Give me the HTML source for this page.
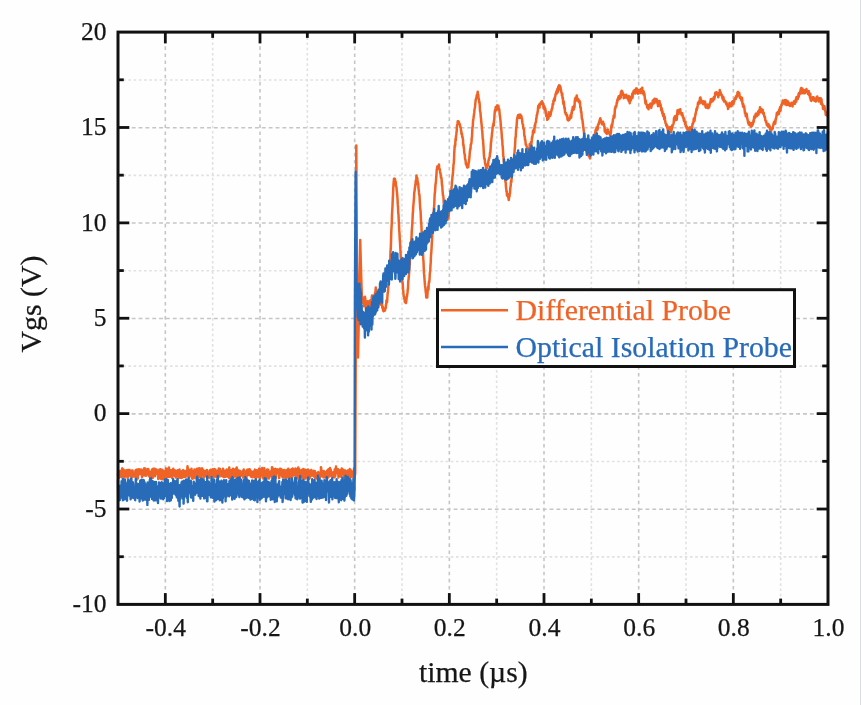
<!DOCTYPE html>
<html><head><meta charset="utf-8"><title>Vgs</title>
<style>
html,body{margin:0;padding:0;background:#fff;}
body{width:861px;height:705px;overflow:hidden;position:relative;}
svg{position:absolute;left:0;top:0;display:block;filter:blur(0.7px);}
text{font-family:"Liberation Serif",serif;fill:#161616;stroke:#161616;stroke-width:0.25px;}
</style></head><body>
<svg width="861" height="705" viewBox="0 0 861 705">
<rect x="0" y="0" width="861" height="705" fill="#fefefe"/>
<g id="grid">
<line x1="165.33" y1="32.1" x2="165.33" y2="604.4" stroke="#c6c6c6" stroke-width="1.6" stroke-dasharray="3.6 3.5"/>
<line x1="212.67" y1="32.1" x2="212.67" y2="604.4" stroke="#e1e1e1" stroke-width="1.6" stroke-dasharray="2.6 2.6"/>
<line x1="260.00" y1="32.1" x2="260.00" y2="604.4" stroke="#c6c6c6" stroke-width="1.6" stroke-dasharray="3.6 3.5"/>
<line x1="307.33" y1="32.1" x2="307.33" y2="604.4" stroke="#e1e1e1" stroke-width="1.6" stroke-dasharray="2.6 2.6"/>
<line x1="354.67" y1="32.1" x2="354.67" y2="604.4" stroke="#c6c6c6" stroke-width="1.6" stroke-dasharray="3.6 3.5"/>
<line x1="402.00" y1="32.1" x2="402.00" y2="604.4" stroke="#e1e1e1" stroke-width="1.6" stroke-dasharray="2.6 2.6"/>
<line x1="449.33" y1="32.1" x2="449.33" y2="604.4" stroke="#c6c6c6" stroke-width="1.6" stroke-dasharray="3.6 3.5"/>
<line x1="496.67" y1="32.1" x2="496.67" y2="604.4" stroke="#e1e1e1" stroke-width="1.6" stroke-dasharray="2.6 2.6"/>
<line x1="544.00" y1="32.1" x2="544.00" y2="604.4" stroke="#c6c6c6" stroke-width="1.6" stroke-dasharray="3.6 3.5"/>
<line x1="591.33" y1="32.1" x2="591.33" y2="604.4" stroke="#e1e1e1" stroke-width="1.6" stroke-dasharray="2.6 2.6"/>
<line x1="638.67" y1="32.1" x2="638.67" y2="604.4" stroke="#c6c6c6" stroke-width="1.6" stroke-dasharray="3.6 3.5"/>
<line x1="686.00" y1="32.1" x2="686.00" y2="604.4" stroke="#e1e1e1" stroke-width="1.6" stroke-dasharray="2.6 2.6"/>
<line x1="733.33" y1="32.1" x2="733.33" y2="604.4" stroke="#c6c6c6" stroke-width="1.6" stroke-dasharray="3.6 3.5"/>
<line x1="780.67" y1="32.1" x2="780.67" y2="604.4" stroke="#e1e1e1" stroke-width="1.6" stroke-dasharray="2.6 2.6"/>
<line x1="118.0" y1="556.91" x2="828.0" y2="556.91" stroke="#e1e1e1" stroke-width="1.6" stroke-dasharray="2.6 2.6"/>
<line x1="118.0" y1="509.22" x2="828.0" y2="509.22" stroke="#c6c6c6" stroke-width="1.6" stroke-dasharray="3.9 2.95"/>
<line x1="118.0" y1="461.52" x2="828.0" y2="461.52" stroke="#e1e1e1" stroke-width="1.6" stroke-dasharray="2.6 2.6"/>
<line x1="118.0" y1="413.83" x2="828.0" y2="413.83" stroke="#c6c6c6" stroke-width="1.6" stroke-dasharray="3.9 2.95"/>
<line x1="118.0" y1="366.14" x2="828.0" y2="366.14" stroke="#e1e1e1" stroke-width="1.6" stroke-dasharray="2.6 2.6"/>
<line x1="118.0" y1="318.45" x2="828.0" y2="318.45" stroke="#c6c6c6" stroke-width="1.6" stroke-dasharray="3.9 2.95"/>
<line x1="118.0" y1="270.76" x2="828.0" y2="270.76" stroke="#e1e1e1" stroke-width="1.6" stroke-dasharray="2.6 2.6"/>
<line x1="118.0" y1="223.07" x2="828.0" y2="223.07" stroke="#c6c6c6" stroke-width="1.6" stroke-dasharray="3.9 2.95"/>
<line x1="118.0" y1="175.37" x2="828.0" y2="175.37" stroke="#e1e1e1" stroke-width="1.6" stroke-dasharray="2.6 2.6"/>
<line x1="118.0" y1="127.68" x2="828.0" y2="127.68" stroke="#c6c6c6" stroke-width="1.6" stroke-dasharray="3.9 2.95"/>
<line x1="118.0" y1="79.99" x2="828.0" y2="79.99" stroke="#e1e1e1" stroke-width="1.6" stroke-dasharray="2.6 2.6"/>
</g>
<g id="ticks" stroke="#111" stroke-width="2.8">
<line x1="165.33" y1="604.4" x2="165.33" y2="593.1"/>
<line x1="165.33" y1="32.1" x2="165.33" y2="43.400000000000006"/>
<line x1="212.67" y1="604.4" x2="212.67" y2="598.6"/>
<line x1="212.67" y1="32.1" x2="212.67" y2="37.9"/>
<line x1="260.00" y1="604.4" x2="260.00" y2="593.1"/>
<line x1="260.00" y1="32.1" x2="260.00" y2="43.400000000000006"/>
<line x1="307.33" y1="604.4" x2="307.33" y2="598.6"/>
<line x1="307.33" y1="32.1" x2="307.33" y2="37.9"/>
<line x1="354.67" y1="604.4" x2="354.67" y2="593.1"/>
<line x1="354.67" y1="32.1" x2="354.67" y2="43.400000000000006"/>
<line x1="402.00" y1="604.4" x2="402.00" y2="598.6"/>
<line x1="402.00" y1="32.1" x2="402.00" y2="37.9"/>
<line x1="449.33" y1="604.4" x2="449.33" y2="593.1"/>
<line x1="449.33" y1="32.1" x2="449.33" y2="43.400000000000006"/>
<line x1="496.67" y1="604.4" x2="496.67" y2="598.6"/>
<line x1="496.67" y1="32.1" x2="496.67" y2="37.9"/>
<line x1="544.00" y1="604.4" x2="544.00" y2="593.1"/>
<line x1="544.00" y1="32.1" x2="544.00" y2="43.400000000000006"/>
<line x1="591.33" y1="604.4" x2="591.33" y2="598.6"/>
<line x1="591.33" y1="32.1" x2="591.33" y2="37.9"/>
<line x1="638.67" y1="604.4" x2="638.67" y2="593.1"/>
<line x1="638.67" y1="32.1" x2="638.67" y2="43.400000000000006"/>
<line x1="686.00" y1="604.4" x2="686.00" y2="598.6"/>
<line x1="686.00" y1="32.1" x2="686.00" y2="37.9"/>
<line x1="733.33" y1="604.4" x2="733.33" y2="593.1"/>
<line x1="733.33" y1="32.1" x2="733.33" y2="43.400000000000006"/>
<line x1="780.67" y1="604.4" x2="780.67" y2="598.6"/>
<line x1="780.67" y1="32.1" x2="780.67" y2="37.9"/>
<line x1="118.0" y1="556.71" x2="123.8" y2="556.71"/>
<line x1="828.0" y1="556.71" x2="822.2" y2="556.71"/>
<line x1="118.0" y1="509.02" x2="129.3" y2="509.02"/>
<line x1="828.0" y1="509.02" x2="816.7" y2="509.02"/>
<line x1="118.0" y1="461.32" x2="123.8" y2="461.32"/>
<line x1="828.0" y1="461.32" x2="822.2" y2="461.32"/>
<line x1="118.0" y1="413.63" x2="129.3" y2="413.63"/>
<line x1="828.0" y1="413.63" x2="816.7" y2="413.63"/>
<line x1="118.0" y1="365.94" x2="123.8" y2="365.94"/>
<line x1="828.0" y1="365.94" x2="822.2" y2="365.94"/>
<line x1="118.0" y1="318.25" x2="129.3" y2="318.25"/>
<line x1="828.0" y1="318.25" x2="816.7" y2="318.25"/>
<line x1="118.0" y1="270.56" x2="123.8" y2="270.56"/>
<line x1="828.0" y1="270.56" x2="822.2" y2="270.56"/>
<line x1="118.0" y1="222.87" x2="129.3" y2="222.87"/>
<line x1="828.0" y1="222.87" x2="816.7" y2="222.87"/>
<line x1="118.0" y1="175.17" x2="123.8" y2="175.17"/>
<line x1="828.0" y1="175.17" x2="822.2" y2="175.17"/>
<line x1="118.0" y1="127.48" x2="129.3" y2="127.48"/>
<line x1="828.0" y1="127.48" x2="816.7" y2="127.48"/>
<line x1="118.0" y1="79.79" x2="123.8" y2="79.79"/>
<line x1="828.0" y1="79.79" x2="822.2" y2="79.79"/>
</g>
<path id="orange" d="M118.00,473.50 L118.25,476.92 L118.50,475.75 L118.75,477.21 L119.00,477.87 L119.25,471.70 L119.50,475.47 L119.75,476.60 L120.00,471.02 L120.25,476.46 L120.50,471.88 L120.75,474.17 L121.00,474.00 L121.25,476.99 L121.50,474.52 L121.75,476.81 L122.00,469.16 L122.25,468.39 L122.50,470.77 L122.75,474.11 L123.00,473.44 L123.25,469.29 L123.50,469.57 L123.75,472.98 L124.00,472.36 L124.25,477.21 L124.50,473.93 L124.75,476.28 L125.00,476.64 L125.25,472.36 L125.50,473.09 L125.75,470.54 L126.00,472.28 L126.25,472.72 L126.50,471.96 L126.75,470.86 L127.00,472.25 L127.25,469.90 L127.50,477.75 L127.75,477.61 L128.00,470.45 L128.25,471.99 L128.50,470.34 L128.75,471.32 L129.00,471.79 L129.25,469.88 L129.50,470.65 L129.75,474.19 L130.00,474.21 L130.25,475.99 L130.50,472.68 L130.75,472.99 L131.00,470.56 L131.25,471.53 L131.50,473.69 L131.75,472.60 L132.00,476.71 L132.25,471.41 L132.50,470.44 L132.75,472.38 L133.00,474.70 L133.25,476.59 L133.50,475.37 L133.75,473.40 L134.00,474.38 L134.25,476.10 L134.50,472.39 L134.75,476.58 L135.00,474.00 L135.25,472.09 L135.50,470.47 L135.75,475.53 L136.00,470.09 L136.25,472.85 L136.50,473.59 L136.75,479.77 L137.00,470.67 L137.25,469.50 L137.50,473.51 L137.75,478.40 L138.00,469.99 L138.25,473.76 L138.50,469.40 L138.75,472.71 L139.00,469.35 L139.25,473.72 L139.50,471.01 L139.75,474.23 L140.00,470.40 L140.25,470.11 L140.50,471.32 L140.75,471.21 L141.00,469.43 L141.25,471.47 L141.50,472.03 L141.75,471.15 L142.00,477.04 L142.25,474.03 L142.50,474.70 L142.75,475.16 L143.00,475.50 L143.25,473.76 L143.50,469.80 L143.75,472.40 L144.00,468.62 L144.25,473.14 L144.50,468.49 L144.75,474.58 L145.00,470.72 L145.25,475.61 L145.50,468.83 L145.75,474.39 L146.00,475.79 L146.25,470.38 L146.50,474.14 L146.75,469.99 L147.00,470.15 L147.25,471.68 L147.50,469.91 L147.75,473.97 L148.00,468.91 L148.25,471.45 L148.50,469.39 L148.75,475.71 L149.00,474.19 L149.25,473.34 L149.50,475.21 L149.75,476.95 L150.00,474.06 L150.25,473.47 L150.50,471.72 L150.75,472.39 L151.00,476.97 L151.25,474.97 L151.50,471.82 L151.75,477.85 L152.00,469.71 L152.25,469.41 L152.50,476.55 L152.75,477.87 L153.00,470.51 L153.25,468.82 L153.50,468.84 L153.75,473.93 L154.00,471.90 L154.25,474.87 L154.50,474.10 L154.75,468.80 L155.00,476.16 L155.25,471.25 L155.50,474.14 L155.75,474.22 L156.00,470.40 L156.25,473.52 L156.50,469.39 L156.75,472.19 L157.00,471.21 L157.25,471.73 L157.50,470.48 L157.75,472.89 L158.00,473.89 L158.25,479.00 L158.50,470.40 L158.75,478.12 L159.00,474.87 L159.25,470.99 L159.50,469.61 L159.75,477.90 L160.00,471.12 L160.25,469.17 L160.50,475.47 L160.75,475.97 L161.00,478.92 L161.25,471.66 L161.50,471.60 L161.75,472.79 L162.00,469.68 L162.25,474.48 L162.50,479.36 L162.75,471.01 L163.00,471.66 L163.25,473.42 L163.50,470.76 L163.75,475.03 L164.00,478.16 L164.25,471.68 L164.50,474.73 L164.75,476.61 L165.00,472.07 L165.25,477.37 L165.50,477.38 L165.75,474.48 L166.00,468.56 L166.25,471.17 L166.50,470.14 L166.75,477.38 L167.00,476.32 L167.25,469.01 L167.50,475.10 L167.75,470.29 L168.00,476.51 L168.25,473.87 L168.50,476.40 L168.75,476.79 L169.00,467.62 L169.25,471.56 L169.50,474.55 L169.75,476.86 L170.00,472.99 L170.25,470.58 L170.50,471.12 L170.75,473.16 L171.00,470.17 L171.25,471.93 L171.50,470.24 L171.75,472.90 L172.00,477.61 L172.25,478.08 L172.50,470.42 L172.75,473.47 L173.00,475.66 L173.25,468.82 L173.50,473.46 L173.75,470.56 L174.00,471.50 L174.25,472.04 L174.50,475.72 L174.75,470.37 L175.00,475.47 L175.25,474.92 L175.50,473.03 L175.75,477.40 L176.00,472.84 L176.25,472.63 L176.50,476.31 L176.75,475.51 L177.00,475.31 L177.25,470.60 L177.50,470.28 L177.75,472.45 L178.00,471.23 L178.25,476.72 L178.50,471.66 L178.75,470.64 L179.00,477.78 L179.25,473.40 L179.50,469.61 L179.75,472.26 L180.00,477.50 L180.25,471.80 L180.50,473.11 L180.75,477.83 L181.00,474.34 L181.25,475.43 L181.50,477.89 L181.75,471.21 L182.00,477.85 L182.25,474.66 L182.50,471.91 L182.75,470.71 L183.00,471.24 L183.25,470.10 L183.50,476.73 L183.75,473.65 L184.00,472.03 L184.25,476.69 L184.50,473.84 L184.75,474.02 L185.00,470.94 L185.25,473.20 L185.50,477.05 L185.75,474.64 L186.00,473.88 L186.25,475.16 L186.50,473.68 L186.75,475.00 L187.00,471.55 L187.25,471.03 L187.50,466.33 L187.75,475.69 L188.00,468.33 L188.25,471.10 L188.50,474.43 L188.75,474.33 L189.00,477.67 L189.25,470.80 L189.50,470.05 L189.75,472.03 L190.00,472.93 L190.25,471.90 L190.50,474.51 L190.75,475.50 L191.00,470.05 L191.25,475.32 L191.50,468.83 L191.75,473.81 L192.00,478.11 L192.25,477.83 L192.50,473.91 L192.75,478.65 L193.00,471.51 L193.25,471.77 L193.50,473.30 L193.75,473.81 L194.00,476.07 L194.25,472.61 L194.50,469.46 L194.75,474.44 L195.00,469.87 L195.25,478.11 L195.50,470.69 L195.75,471.64 L196.00,470.11 L196.25,471.74 L196.50,474.43 L196.75,471.46 L197.00,468.71 L197.25,475.12 L197.50,474.99 L197.75,470.91 L198.00,471.09 L198.25,468.66 L198.50,470.05 L198.75,472.24 L199.00,470.97 L199.25,477.22 L199.50,468.18 L199.75,474.89 L200.00,473.61 L200.25,472.35 L200.50,472.92 L200.75,471.71 L201.00,472.06 L201.25,468.71 L201.50,478.60 L201.75,468.73 L202.00,468.38 L202.25,473.38 L202.50,474.50 L202.75,473.53 L203.00,471.07 L203.25,469.78 L203.50,475.21 L203.75,471.33 L204.00,471.59 L204.25,477.38 L204.50,471.50 L204.75,475.45 L205.00,471.34 L205.25,473.42 L205.50,473.63 L205.75,474.91 L206.00,475.73 L206.25,470.46 L206.50,473.91 L206.75,475.43 L207.00,469.91 L207.25,473.38 L207.50,474.07 L207.75,473.51 L208.00,473.90 L208.25,475.17 L208.50,475.84 L208.75,476.84 L209.00,475.71 L209.25,477.79 L209.50,475.54 L209.75,470.57 L210.00,470.42 L210.25,470.01 L210.50,470.70 L210.75,469.70 L211.00,474.67 L211.25,475.86 L211.50,473.86 L211.75,472.84 L212.00,474.55 L212.25,471.66 L212.50,475.82 L212.75,469.26 L213.00,472.83 L213.25,473.90 L213.50,471.63 L213.75,477.25 L214.00,473.71 L214.25,472.11 L214.50,469.11 L214.75,471.31 L215.00,474.37 L215.25,472.01 L215.50,469.79 L215.75,473.95 L216.00,471.80 L216.25,476.98 L216.50,473.77 L216.75,474.81 L217.00,476.30 L217.25,476.12 L217.50,471.73 L217.75,473.90 L218.00,470.56 L218.25,471.43 L218.50,471.12 L218.75,468.53 L219.00,471.18 L219.25,470.02 L219.50,476.60 L219.75,470.87 L220.00,469.08 L220.25,472.88 L220.50,470.64 L220.75,475.17 L221.00,472.40 L221.25,474.23 L221.50,471.35 L221.75,474.37 L222.00,475.94 L222.25,473.27 L222.50,474.38 L222.75,473.82 L223.00,468.87 L223.25,469.94 L223.50,476.97 L223.75,471.60 L224.00,477.25 L224.25,473.24 L224.50,476.35 L224.75,470.95 L225.00,474.19 L225.25,474.97 L225.50,476.68 L225.75,470.38 L226.00,473.60 L226.25,472.18 L226.50,473.88 L226.75,469.45 L227.00,474.00 L227.25,476.56 L227.50,476.20 L227.75,470.10 L228.00,472.72 L228.25,472.63 L228.50,472.03 L228.75,472.20 L229.00,477.80 L229.25,467.50 L229.50,478.25 L229.75,469.62 L230.00,470.23 L230.25,469.99 L230.50,470.91 L230.75,476.20 L231.00,476.81 L231.25,477.49 L231.50,472.64 L231.75,470.77 L232.00,475.83 L232.25,476.46 L232.50,469.40 L232.75,478.01 L233.00,468.75 L233.25,476.85 L233.50,474.90 L233.75,476.70 L234.00,476.65 L234.25,469.51 L234.50,472.72 L234.75,470.32 L235.00,472.61 L235.25,470.38 L235.50,471.86 L235.75,472.51 L236.00,468.63 L236.25,472.06 L236.50,478.41 L236.75,467.46 L237.00,476.93 L237.25,473.92 L237.50,469.66 L237.75,478.28 L238.00,474.41 L238.25,472.18 L238.50,472.59 L238.75,475.95 L239.00,470.64 L239.25,470.99 L239.50,471.76 L239.75,470.81 L240.00,477.04 L240.25,474.63 L240.50,475.00 L240.75,475.91 L241.00,473.71 L241.25,471.94 L241.50,472.50 L241.75,474.72 L242.00,471.77 L242.25,471.43 L242.50,471.43 L242.75,475.70 L243.00,470.78 L243.25,477.69 L243.50,471.21 L243.75,469.56 L244.00,471.35 L244.25,471.54 L244.50,470.40 L244.75,474.29 L245.00,476.33 L245.25,471.74 L245.50,475.48 L245.75,472.05 L246.00,471.81 L246.25,472.16 L246.50,477.54 L246.75,474.14 L247.00,474.41 L247.25,469.85 L247.50,474.43 L247.75,471.57 L248.00,473.69 L248.25,473.64 L248.50,469.53 L248.75,472.71 L249.00,475.18 L249.25,469.83 L249.50,472.36 L249.75,469.37 L250.00,470.39 L250.25,473.91 L250.50,471.94 L250.75,474.31 L251.00,476.74 L251.25,475.16 L251.50,471.41 L251.75,474.12 L252.00,475.84 L252.25,477.17 L252.50,474.97 L252.75,475.32 L253.00,471.78 L253.25,476.46 L253.50,471.43 L253.75,473.73 L254.00,476.25 L254.25,471.23 L254.50,477.28 L254.75,470.44 L255.00,469.59 L255.25,472.22 L255.50,475.68 L255.75,470.83 L256.00,478.65 L256.25,473.93 L256.50,477.45 L256.75,470.29 L257.00,472.46 L257.25,471.26 L257.50,476.58 L257.75,474.06 L258.00,474.09 L258.25,471.54 L258.50,475.14 L258.75,476.88 L259.00,468.69 L259.25,472.26 L259.50,477.78 L259.75,475.44 L260.00,478.42 L260.25,472.37 L260.50,473.73 L260.75,469.36 L261.00,472.82 L261.25,475.07 L261.50,470.99 L261.75,471.81 L262.00,472.61 L262.25,467.91 L262.50,469.75 L262.75,477.07 L263.00,469.30 L263.25,478.58 L263.50,477.52 L263.75,478.54 L264.00,476.20 L264.25,468.28 L264.50,469.84 L264.75,471.80 L265.00,471.77 L265.25,471.01 L265.50,477.63 L265.75,476.51 L266.00,475.25 L266.25,471.11 L266.50,477.92 L266.75,476.67 L267.00,471.86 L267.25,469.46 L267.50,471.01 L267.75,472.94 L268.00,476.44 L268.25,469.78 L268.50,474.39 L268.75,472.05 L269.00,478.55 L269.25,471.49 L269.50,474.95 L269.75,472.70 L270.00,474.71 L270.25,475.65 L270.50,476.18 L270.75,475.79 L271.00,472.09 L271.25,471.50 L271.50,470.62 L271.75,472.04 L272.00,467.27 L272.25,476.34 L272.50,467.80 L272.75,470.88 L273.00,475.32 L273.25,476.01 L273.50,478.99 L273.75,470.92 L274.00,469.58 L274.25,476.20 L274.50,469.87 L274.75,476.54 L275.00,469.21 L275.25,468.86 L275.50,473.73 L275.75,478.05 L276.00,473.70 L276.25,472.17 L276.50,473.54 L276.75,469.85 L277.00,469.23 L277.25,472.07 L277.50,472.99 L277.75,471.73 L278.00,470.18 L278.25,471.79 L278.50,471.95 L278.75,471.07 L279.00,478.11 L279.25,477.92 L279.50,469.12 L279.75,473.34 L280.00,471.33 L280.25,473.86 L280.50,468.70 L280.75,470.14 L281.00,469.96 L281.25,469.27 L281.50,475.01 L281.75,469.85 L282.00,476.55 L282.25,476.73 L282.50,472.35 L282.75,476.24 L283.00,477.39 L283.25,470.22 L283.50,476.16 L283.75,472.20 L284.00,471.99 L284.25,472.39 L284.50,469.91 L284.75,475.41 L285.00,470.93 L285.25,473.48 L285.50,478.51 L285.75,471.94 L286.00,472.02 L286.25,477.34 L286.50,473.89 L286.75,474.12 L287.00,469.98 L287.25,475.44 L287.50,473.94 L287.75,475.43 L288.00,473.73 L288.25,468.86 L288.50,478.27 L288.75,474.58 L289.00,477.58 L289.25,473.42 L289.50,470.57 L289.75,470.98 L290.00,472.00 L290.25,471.79 L290.50,469.87 L290.75,471.76 L291.00,471.23 L291.25,477.66 L291.50,474.12 L291.75,475.14 L292.00,468.99 L292.25,470.41 L292.50,476.51 L292.75,468.45 L293.00,469.70 L293.25,473.47 L293.50,470.12 L293.75,470.26 L294.00,474.95 L294.25,473.40 L294.50,469.86 L294.75,475.28 L295.00,474.28 L295.25,475.16 L295.50,468.40 L295.75,471.44 L296.00,473.01 L296.25,469.07 L296.50,476.21 L296.75,478.22 L297.00,469.68 L297.25,473.99 L297.50,470.14 L297.75,478.44 L298.00,470.77 L298.25,467.52 L298.50,470.06 L298.75,473.76 L299.00,469.12 L299.25,477.53 L299.50,475.07 L299.75,475.21 L300.00,474.77 L300.25,473.24 L300.50,476.93 L300.75,475.07 L301.00,472.05 L301.25,471.79 L301.50,470.03 L301.75,471.62 L302.00,473.02 L302.25,470.16 L302.50,478.11 L302.75,469.90 L303.00,474.36 L303.25,469.06 L303.50,473.24 L303.75,474.05 L304.00,470.81 L304.25,478.53 L304.50,469.82 L304.75,470.34 L305.00,475.64 L305.25,471.62 L305.50,478.38 L305.75,469.83 L306.00,470.18 L306.25,475.00 L306.50,476.75 L306.75,477.07 L307.00,472.27 L307.25,475.64 L307.50,472.39 L307.75,474.59 L308.00,469.46 L308.25,476.77 L308.50,476.19 L308.75,470.34 L309.00,472.89 L309.25,472.05 L309.50,478.73 L309.75,473.40 L310.00,473.60 L310.25,476.80 L310.50,471.19 L310.75,475.95 L311.00,471.87 L311.25,469.90 L311.50,471.68 L311.75,475.18 L312.00,472.22 L312.25,475.50 L312.50,474.69 L312.75,475.52 L313.00,471.64 L313.25,474.91 L313.50,475.79 L313.75,470.71 L314.00,474.09 L314.25,476.72 L314.50,477.01 L314.75,471.78 L315.00,471.18 L315.25,477.96 L315.50,474.67 L315.75,476.69 L316.00,475.28 L316.25,473.13 L316.50,475.57 L316.75,473.28 L317.00,473.80 L317.25,478.63 L317.50,475.18 L317.75,477.94 L318.00,472.78 L318.25,472.03 L318.50,474.40 L318.75,473.20 L319.00,474.73 L319.25,474.89 L319.50,475.24 L319.75,475.65 L320.00,475.28 L320.25,477.10 L320.50,476.53 L320.75,476.34 L321.00,467.15 L321.25,469.63 L321.50,473.50 L321.75,472.97 L322.00,475.46 L322.25,470.85 L322.50,475.97 L322.75,471.60 L323.00,474.76 L323.25,476.01 L323.50,477.56 L323.75,470.98 L324.00,472.92 L324.25,473.11 L324.50,471.76 L324.75,474.12 L325.00,477.11 L325.25,477.43 L325.50,472.46 L325.75,473.62 L326.00,476.49 L326.25,471.91 L326.50,476.10 L326.75,476.45 L327.00,475.24 L327.25,470.41 L327.50,477.98 L327.75,477.68 L328.00,469.93 L328.25,474.70 L328.50,469.33 L328.75,474.93 L329.00,475.30 L329.25,476.37 L329.50,476.32 L329.75,472.94 L330.00,467.97 L330.25,475.44 L330.50,469.67 L330.75,469.74 L331.00,471.79 L331.25,474.88 L331.50,473.06 L331.75,475.72 L332.00,474.61 L332.25,476.74 L332.50,475.98 L332.75,476.58 L333.00,473.42 L333.25,472.21 L333.50,473.78 L333.75,475.08 L334.00,476.74 L334.25,477.38 L334.50,473.35 L334.75,469.24 L335.00,476.63 L335.25,476.21 L335.50,471.49 L335.75,469.73 L336.00,466.51 L336.25,470.72 L336.50,473.07 L336.75,469.26 L337.00,468.97 L337.25,470.79 L337.50,472.67 L337.75,471.30 L338.00,469.27 L338.25,472.98 L338.50,477.41 L338.75,475.66 L339.00,472.61 L339.25,471.83 L339.50,472.61 L339.75,475.56 L340.00,470.31 L340.25,474.02 L340.50,475.98 L340.75,474.65 L341.00,476.68 L341.25,472.55 L341.50,471.48 L341.75,468.43 L342.00,473.91 L342.25,474.25 L342.50,471.01 L342.75,469.42 L343.00,473.87 L343.25,470.72 L343.50,469.67 L343.75,472.31 L344.00,477.93 L344.25,471.82 L344.50,476.42 L344.75,473.05 L345.00,471.76 L345.25,470.55 L345.50,472.45 L345.75,477.34 L346.00,472.81 L346.25,472.38 L346.50,477.28 L346.75,475.60 L347.00,471.88 L347.25,473.13 L347.50,474.57 L347.75,470.47 L348.00,473.14 L348.25,471.09 L348.50,476.72 L348.75,470.60 L349.00,477.87 L349.25,471.85 L349.50,470.39 L349.75,468.97 L350.00,478.52 L350.25,478.04 L350.50,469.83 L350.75,473.66 L351.00,471.37 L351.25,474.78 L351.50,472.72 L351.75,476.27 L352.00,471.46 L352.25,476.82 L352.50,471.81 L352.75,473.83 L353.00,473.34 L353.25,472.38 L353.50,475.04 L353.75,474.76 L354.00,468.56 L354.25,470.75 L354.50,478.78 L355.20,472.80 L356.00,300.00 L356.30,145.60 L356.80,250.00 L358.00,357.50 L359.20,300.00 L360.20,240.00 L361.00,270.00 L362.00,302.00 L362.00,300.04 L362.25,302.65 L362.50,301.78 L362.75,297.21 L363.00,299.96 L363.25,303.09 L363.50,298.85 L363.75,306.30 L364.00,305.67 L364.25,301.23 L364.50,297.70 L364.75,299.21 L365.00,296.81 L365.25,298.52 L365.50,300.92 L365.75,304.12 L366.00,311.24 L366.25,308.49 L366.50,306.70 L366.75,311.00 L367.00,303.14 L367.25,302.66 L367.50,304.60 L367.75,301.36 L368.00,303.59 L368.25,307.33 L368.50,307.03 L368.75,309.98 L369.00,307.60 L369.25,305.25 L369.50,305.13 L369.75,301.25 L370.00,300.53 L370.25,301.28 L370.50,306.35 L370.75,301.33 L371.00,300.94 L371.25,300.53 L371.50,304.88 L371.75,297.09 L372.00,295.58 L372.25,300.31 L372.50,299.68 L372.75,300.04 L373.00,299.46 L373.25,300.40 L373.50,295.69 L373.75,300.55 L374.00,299.48 L374.25,301.22 L374.50,296.01 L374.75,299.43 L375.00,292.72 L375.25,294.53 L375.50,291.22 L375.75,287.56 L376.00,293.38 L376.25,289.90 L376.50,296.07 L376.75,291.28 L377.00,293.95 L377.25,297.90 L377.50,299.25 L377.75,296.23 L378.00,297.94 L378.25,298.91 L378.50,299.14 L378.75,298.26 L379.00,301.61 L379.25,298.30 L379.50,301.61 L379.75,300.32 L380.00,303.27 L380.25,302.92 L380.50,301.66 L380.75,304.62 L381.00,304.68 L381.25,304.96 L381.50,303.89 L381.75,302.71 L382.00,302.71 L382.25,307.62 L382.50,307.47 L382.75,306.58 L383.00,309.99 L383.25,310.61 L383.50,311.11 L383.75,309.38 L384.00,309.13 L384.25,308.51 L384.50,308.63 L384.75,310.77 L385.00,310.03 L385.25,309.47 L385.50,308.07 L385.75,308.09 L386.00,304.27 L386.25,304.19 L386.50,300.19 L386.75,300.13 L387.00,302.35 L387.25,299.40 L387.50,295.28 L387.75,292.79 L388.00,291.76 L388.25,286.32 L388.50,283.46 L388.75,280.98 L389.00,276.45 L389.25,274.19 L389.50,272.08 L389.75,269.88 L390.00,261.61 L390.25,260.16 L390.50,251.06 L390.75,249.00 L391.00,242.35 L391.25,232.47 L391.50,227.76 L391.75,223.45 L392.00,214.25 L392.25,210.22 L392.50,205.76 L392.75,199.07 L393.00,194.56 L393.25,187.96 L393.50,184.04 L393.75,181.49 L394.00,178.70 L394.25,178.69 L394.50,180.84 L394.75,178.75 L395.00,179.10 L395.25,180.65 L395.50,183.67 L395.75,181.88 L396.00,186.19 L396.25,186.68 L396.50,187.39 L396.75,190.81 L397.00,192.83 L397.25,195.32 L397.50,198.94 L397.75,204.17 L398.00,206.85 L398.25,213.07 L398.50,214.80 L398.75,220.80 L399.00,224.81 L399.25,230.67 L399.50,233.17 L399.75,239.71 L400.00,242.42 L400.25,247.09 L400.50,251.41 L400.75,257.77 L401.00,259.45 L401.25,264.24 L401.50,267.80 L401.75,271.04 L402.00,274.34 L402.25,280.65 L402.50,282.86 L402.75,283.98 L403.00,289.38 L403.25,290.60 L403.50,294.02 L403.75,296.55 L404.00,296.42 L404.25,298.80 L404.50,298.02 L404.75,301.19 L405.00,302.30 L405.25,300.35 L405.50,301.06 L405.75,302.34 L406.00,303.03 L406.25,301.31 L406.50,299.36 L406.75,296.23 L407.00,296.26 L407.25,294.02 L407.50,292.71 L407.75,289.33 L408.00,288.75 L408.25,281.35 L408.50,279.83 L408.75,277.19 L409.00,274.43 L409.25,270.08 L409.50,265.43 L409.75,264.37 L410.00,258.62 L410.25,256.44 L410.50,251.33 L410.75,249.99 L411.00,243.79 L411.25,240.32 L411.50,238.03 L411.75,231.35 L412.00,228.25 L412.25,224.76 L412.50,220.12 L412.75,213.85 L413.00,211.61 L413.25,206.34 L413.50,204.01 L413.75,200.99 L414.00,198.10 L414.25,192.35 L414.50,191.65 L414.75,189.36 L415.00,187.02 L415.25,186.47 L415.50,184.51 L415.75,180.71 L416.00,180.51 L416.25,178.71 L416.50,175.38 L416.75,178.31 L417.00,179.68 L417.25,178.05 L417.50,180.30 L417.75,182.23 L418.00,184.65 L418.25,183.48 L418.50,188.47 L418.75,189.86 L419.00,192.97 L419.25,194.89 L419.50,195.28 L419.75,200.70 L420.00,204.78 L420.25,208.97 L420.50,210.26 L420.75,214.50 L421.00,221.08 L421.25,222.76 L421.50,227.82 L421.75,233.24 L422.00,235.54 L422.25,239.75 L422.50,245.07 L422.75,250.38 L423.00,251.67 L423.25,259.05 L423.50,261.34 L423.75,268.27 L424.00,273.43 L424.25,275.56 L424.50,279.03 L424.75,282.34 L425.00,285.63 L425.25,286.90 L425.50,288.96 L425.75,292.18 L426.00,293.06 L426.25,297.44 L426.50,296.19 L426.75,296.22 L427.00,294.69 L427.25,297.56 L427.50,293.62 L427.75,290.11 L428.00,288.91 L428.25,286.59 L428.50,289.67 L428.75,283.47 L429.00,281.51 L429.25,282.46 L429.50,279.62 L429.75,274.78 L430.00,271.94 L430.25,270.72 L430.50,264.88 L430.75,262.15 L431.00,254.92 L431.25,252.97 L431.50,249.18 L431.75,244.16 L432.00,240.19 L432.25,235.24 L432.50,229.69 L432.75,227.34 L433.00,223.24 L433.25,217.81 L433.50,213.71 L433.75,210.30 L434.00,207.74 L434.25,204.51 L434.50,197.86 L434.75,193.24 L435.00,192.15 L435.25,188.06 L435.50,184.34 L435.75,183.38 L436.00,180.57 L436.25,176.87 L436.50,173.83 L436.75,169.27 L437.00,169.25 L437.25,166.61 L437.50,166.97 L437.75,167.66 L438.00,166.74 L438.25,166.41 L438.50,165.97 L438.75,165.76 L439.00,164.46 L439.25,169.27 L439.50,168.59 L439.75,169.02 L440.00,171.21 L440.25,172.98 L440.50,173.19 L440.75,175.37 L441.00,177.77 L441.25,177.33 L441.50,178.30 L441.75,181.69 L442.00,185.51 L442.25,185.02 L442.50,190.04 L442.75,192.98 L443.00,195.78 L443.25,195.81 L443.50,198.09 L443.75,203.80 L444.00,203.12 L444.25,204.08 L444.50,207.52 L444.75,208.48 L445.00,210.85 L445.25,209.43 L445.50,211.82 L445.75,211.33 L446.00,213.70 L446.25,212.45 L446.50,214.34 L446.75,214.70 L447.00,217.60 L447.25,218.01 L447.50,219.75 L447.75,217.82 L448.00,216.00 L448.25,217.96 L448.50,216.45 L448.75,215.44 L449.00,210.97 L449.25,210.26 L449.50,207.92 L449.75,205.93 L450.00,204.45 L450.25,204.47 L450.50,201.11 L450.75,197.95 L451.00,197.66 L451.25,192.28 L451.50,187.50 L451.75,185.64 L452.00,181.15 L452.25,179.62 L452.50,176.31 L452.75,175.77 L453.00,172.17 L453.25,168.79 L453.50,164.49 L453.75,163.69 L454.00,160.19 L454.25,152.82 L454.50,149.15 L454.75,145.43 L455.00,146.67 L455.25,144.62 L455.50,139.05 L455.75,140.56 L456.00,135.94 L456.25,134.96 L456.50,132.31 L456.75,130.37 L457.00,125.21 L457.25,125.22 L457.50,123.70 L457.75,121.20 L458.00,121.24 L458.25,121.23 L458.50,122.90 L458.75,121.63 L459.00,123.13 L459.25,123.17 L459.50,123.65 L459.75,124.07 L460.00,125.01 L460.25,127.04 L460.50,126.94 L460.75,128.06 L461.00,130.65 L461.25,130.92 L461.50,134.27 L461.75,133.08 L462.00,133.80 L462.25,137.04 L462.50,136.53 L462.75,138.88 L463.00,139.49 L463.25,145.31 L463.50,144.73 L463.75,147.60 L464.00,148.52 L464.25,152.81 L464.50,153.67 L464.75,154.59 L465.00,158.48 L465.25,159.49 L465.50,159.90 L465.75,162.51 L466.00,164.52 L466.25,164.50 L466.50,165.40 L466.75,163.76 L467.00,166.11 L467.25,167.58 L467.50,165.30 L467.75,167.46 L468.00,165.46 L468.25,167.06 L468.50,164.00 L468.75,162.35 L469.00,161.46 L469.25,158.81 L469.50,156.98 L469.75,152.63 L470.00,151.03 L470.25,148.64 L470.50,149.23 L470.75,144.47 L471.00,144.27 L471.25,143.81 L471.50,141.64 L471.75,137.71 L472.00,136.58 L472.25,130.80 L472.50,127.19 L472.75,126.73 L473.00,121.56 L473.25,119.49 L473.50,118.24 L473.75,116.09 L474.00,114.23 L474.25,112.89 L474.50,109.32 L474.75,108.49 L475.00,106.96 L475.25,104.29 L475.50,101.59 L475.75,99.48 L476.00,99.19 L476.25,97.93 L476.50,97.38 L476.75,95.20 L477.00,94.86 L477.25,95.24 L477.50,93.39 L477.75,91.75 L478.00,95.49 L478.25,94.74 L478.50,97.19 L478.75,98.91 L479.00,99.95 L479.25,102.79 L479.50,102.14 L479.75,105.29 L480.00,110.89 L480.25,111.48 L480.50,113.09 L480.75,116.48 L481.00,118.57 L481.25,121.75 L481.50,123.64 L481.75,125.95 L482.00,129.67 L482.25,130.94 L482.50,135.08 L482.75,139.23 L483.00,139.68 L483.25,143.59 L483.50,146.56 L483.75,151.92 L484.00,155.75 L484.25,158.87 L484.50,158.54 L484.75,159.07 L485.00,162.58 L485.25,163.38 L485.50,165.43 L485.75,164.50 L486.00,168.42 L486.25,166.83 L486.50,167.93 L486.75,166.10 L487.00,167.07 L487.25,167.74 L487.50,166.79 L487.75,164.04 L488.00,165.26 L488.25,162.48 L488.50,160.28 L488.75,160.31 L489.00,158.48 L489.25,158.14 L489.50,156.91 L489.75,156.94 L490.00,152.69 L490.25,153.03 L490.50,150.76 L490.75,146.22 L491.00,142.17 L491.25,141.53 L491.50,137.74 L491.75,136.83 L492.00,133.14 L492.25,132.11 L492.50,129.11 L492.75,126.90 L493.00,125.37 L493.25,124.62 L493.50,123.24 L493.75,125.71 L494.00,121.05 L494.25,119.70 L494.50,115.35 L494.75,112.01 L495.00,110.22 L495.25,110.25 L495.50,109.38 L495.75,106.97 L496.00,107.74 L496.25,108.26 L496.50,110.17 L496.75,107.25 L497.00,107.89 L497.25,105.37 L497.50,105.86 L497.75,106.85 L498.00,106.71 L498.25,105.63 L498.50,106.52 L498.75,109.04 L499.00,109.75 L499.25,109.13 L499.50,112.02 L499.75,115.29 L500.00,115.86 L500.25,118.51 L500.50,120.96 L500.75,124.10 L501.00,129.06 L501.25,128.90 L501.50,131.89 L501.75,134.92 L502.00,139.24 L502.25,139.82 L502.50,145.59 L502.75,146.61 L503.00,150.84 L503.25,156.26 L503.50,156.35 L503.75,161.59 L504.00,163.09 L504.25,166.36 L504.50,169.92 L504.75,170.40 L505.00,177.06 L505.25,180.38 L505.50,182.08 L505.75,182.65 L506.00,187.58 L506.25,188.95 L506.50,191.96 L506.75,191.19 L507.00,195.56 L507.25,195.69 L507.50,194.06 L507.75,195.75 L508.00,194.53 L508.25,197.35 L508.50,198.08 L508.75,200.00 L509.00,197.59 L509.25,196.96 L509.50,196.32 L509.75,193.63 L510.00,193.51 L510.25,188.74 L510.50,186.86 L510.75,185.35 L511.00,180.69 L511.25,182.69 L511.50,180.33 L511.75,176.96 L512.00,175.41 L512.25,171.87 L512.50,167.90 L512.75,164.76 L513.00,163.30 L513.25,161.48 L513.50,159.37 L513.75,158.60 L514.00,158.44 L514.25,153.57 L514.50,152.79 L514.75,148.73 L515.00,146.73 L515.25,141.73 L515.50,137.16 L515.75,136.98 L516.00,131.35 L516.25,127.51 L516.50,127.41 L516.75,123.64 L517.00,119.66 L517.25,117.97 L517.50,118.50 L517.75,115.91 L518.00,117.21 L518.25,115.00 L518.50,117.72 L518.75,115.27 L519.00,116.63 L519.25,114.64 L519.50,116.43 L519.75,117.94 L520.00,114.78 L520.25,114.53 L520.50,117.42 L520.75,116.46 L521.00,115.43 L521.25,117.34 L521.50,116.33 L521.75,118.90 L522.00,118.49 L522.25,122.05 L522.50,123.55 L522.75,124.33 L523.00,124.69 L523.25,127.81 L523.50,128.87 L523.75,128.83 L524.00,129.18 L524.25,135.45 L524.50,136.37 L524.75,136.10 L525.00,139.99 L525.25,139.60 L525.50,141.77 L525.75,144.86 L526.00,144.45 L526.25,144.90 L526.50,145.84 L526.75,146.65 L527.00,147.88 L527.25,148.68 L527.50,149.20 L527.75,149.17 L528.00,151.41 L528.25,149.86 L528.50,150.18 L528.75,151.30 L529.00,148.01 L529.25,148.14 L529.50,146.63 L529.75,143.91 L530.00,145.90 L530.25,147.81 L530.50,144.50 L530.75,146.01 L531.00,142.10 L531.25,144.90 L531.50,143.24 L531.75,140.69 L532.00,137.12 L532.25,137.58 L532.50,135.83 L532.75,133.93 L533.00,130.83 L533.25,132.59 L533.50,132.42 L533.75,130.64 L534.00,129.21 L534.25,132.52 L534.50,128.63 L534.75,125.16 L535.00,126.96 L535.25,124.34 L535.50,122.74 L535.75,122.47 L536.00,122.21 L536.25,118.55 L536.50,118.11 L536.75,115.11 L537.00,114.92 L537.25,114.29 L537.50,111.93 L537.75,111.97 L538.00,108.50 L538.25,106.02 L538.50,107.02 L538.75,106.23 L539.00,104.74 L539.25,106.85 L539.50,107.59 L539.75,103.93 L540.00,105.13 L540.25,104.25 L540.50,103.43 L540.75,102.59 L541.00,102.46 L541.25,102.89 L541.50,103.40 L541.75,103.07 L542.00,101.22 L542.25,103.99 L542.50,104.26 L542.75,102.63 L543.00,104.01 L543.25,104.30 L543.50,107.80 L543.75,108.52 L544.00,105.95 L544.25,107.28 L544.50,106.55 L544.75,108.41 L545.00,110.14 L545.25,108.45 L545.50,110.55 L545.75,112.25 L546.00,114.38 L546.25,116.10 L546.50,115.75 L546.75,114.74 L547.00,115.40 L547.25,119.87 L547.50,118.55 L547.75,115.67 L548.00,119.21 L548.25,116.65 L548.50,118.28 L548.75,112.13 L549.00,115.89 L549.25,114.01 L549.50,114.63 L549.75,115.89 L550.00,115.98 L550.25,115.79 L550.50,115.09 L550.75,114.17 L551.00,111.91 L551.25,111.88 L551.50,110.03 L551.75,109.82 L552.00,108.21 L552.25,108.56 L552.50,106.15 L552.75,103.87 L553.00,103.64 L553.25,104.22 L553.50,100.40 L553.75,101.10 L554.00,101.11 L554.25,98.60 L554.50,100.10 L554.75,100.50 L555.00,97.03 L555.25,96.60 L555.50,94.69 L555.75,93.66 L556.00,93.29 L556.25,92.10 L556.50,93.91 L556.75,90.82 L557.00,92.53 L557.25,90.16 L557.50,88.81 L557.75,92.39 L558.00,90.75 L558.25,86.78 L558.50,89.46 L558.75,86.30 L559.00,85.28 L559.25,86.26 L559.50,88.32 L559.75,85.39 L560.00,89.41 L560.25,87.90 L560.50,86.85 L560.75,89.60 L561.00,90.01 L561.25,92.06 L561.50,92.70 L561.75,93.34 L562.00,95.77 L562.25,93.46 L562.50,98.20 L562.75,97.45 L563.00,100.28 L563.25,103.20 L563.50,104.18 L563.75,101.38 L564.00,103.61 L564.25,106.61 L564.50,108.72 L564.75,107.47 L565.00,112.40 L565.25,112.40 L565.50,112.57 L565.75,114.38 L566.00,113.04 L566.25,114.37 L566.50,114.81 L566.75,115.92 L567.00,114.92 L567.25,115.92 L567.50,119.63 L567.75,119.39 L568.00,119.70 L568.25,120.45 L568.50,118.36 L568.75,118.87 L569.00,119.63 L569.25,119.11 L569.50,119.65 L569.75,117.78 L570.00,118.22 L570.25,118.14 L570.50,115.47 L570.75,114.68 L571.00,117.65 L571.25,117.31 L571.50,112.63 L571.75,113.86 L572.00,110.12 L572.25,109.87 L572.50,109.55 L572.75,106.95 L573.00,107.91 L573.25,109.66 L573.50,109.90 L573.75,108.25 L574.00,108.87 L574.25,105.41 L574.50,107.18 L574.75,101.32 L575.00,99.79 L575.25,98.16 L575.50,101.12 L575.75,97.55 L576.00,98.13 L576.25,98.77 L576.50,99.11 L576.75,95.58 L577.00,97.96 L577.25,99.28 L577.50,100.22 L577.75,99.92 L578.00,99.00 L578.25,99.30 L578.50,100.00 L578.75,101.97 L579.00,100.37 L579.25,101.60 L579.50,102.88 L579.75,101.21 L580.00,102.02 L580.25,107.09 L580.50,106.91 L580.75,107.80 L581.00,111.85 L581.25,111.29 L581.50,113.22 L581.75,117.31 L582.00,119.39 L582.25,119.07 L582.50,120.42 L582.75,122.71 L583.00,124.86 L583.25,127.40 L583.50,128.61 L583.75,130.81 L584.00,132.89 L584.25,133.05 L584.50,134.37 L584.75,139.06 L585.00,138.89 L585.25,140.82 L585.50,142.33 L585.75,146.88 L586.00,147.88 L586.25,148.50 L586.50,150.39 L586.75,150.35 L587.00,151.83 L587.25,153.38 L587.50,154.49 L587.75,155.01 L588.00,154.37 L588.25,153.92 L588.50,151.90 L588.75,155.92 L589.00,154.56 L589.25,155.33 L589.50,156.79 L589.75,157.95 L590.00,158.39 L590.25,156.91 L590.50,154.03 L590.75,152.14 L591.00,154.36 L591.25,153.05 L591.50,148.88 L591.75,150.63 L592.00,148.47 L592.25,148.09 L592.50,148.58 L592.75,145.19 L593.00,144.69 L593.25,142.04 L593.50,142.04 L593.75,139.48 L594.00,139.42 L594.25,138.15 L594.50,135.17 L594.75,134.01 L595.00,136.00 L595.25,133.02 L595.50,130.61 L595.75,129.78 L596.00,132.44 L596.25,129.73 L596.50,127.52 L596.75,128.27 L597.00,127.60 L597.25,127.26 L597.50,129.84 L597.75,128.49 L598.00,124.49 L598.25,124.34 L598.50,123.92 L598.75,124.17 L599.00,122.36 L599.25,122.91 L599.50,120.79 L599.75,119.82 L600.00,121.93 L600.25,118.29 L600.50,121.23 L600.75,119.75 L601.00,121.79 L601.25,122.74 L601.50,122.34 L601.75,121.65 L602.00,124.09 L602.25,124.36 L602.50,121.93 L602.75,123.67 L603.00,121.76 L603.25,123.72 L603.50,123.30 L603.75,124.83 L604.00,124.06 L604.25,126.76 L604.50,126.90 L604.75,131.40 L605.00,131.13 L605.25,130.09 L605.50,131.55 L605.75,132.83 L606.00,130.10 L606.25,132.58 L606.50,132.34 L606.75,133.90 L607.00,130.72 L607.25,131.72 L607.50,133.19 L607.75,129.44 L608.00,132.15 L608.25,131.83 L608.50,132.36 L608.75,133.20 L609.00,132.07 L609.25,132.73 L609.50,133.22 L609.75,132.36 L610.00,135.05 L610.25,135.11 L610.50,134.53 L610.75,133.23 L611.00,131.53 L611.25,126.22 L611.50,127.57 L611.75,124.48 L612.00,126.42 L612.25,125.15 L612.50,123.16 L612.75,121.32 L613.00,119.19 L613.25,118.60 L613.50,117.29 L613.75,115.43 L614.00,115.49 L614.25,117.68 L614.50,116.88 L614.75,111.42 L615.00,108.22 L615.25,108.70 L615.50,107.10 L615.75,106.03 L616.00,106.81 L616.25,105.88 L616.50,105.27 L616.75,102.46 L617.00,103.00 L617.25,100.56 L617.50,99.48 L617.75,98.90 L618.00,100.37 L618.25,97.56 L618.50,97.76 L618.75,96.33 L619.00,98.46 L619.25,96.26 L619.50,96.94 L619.75,98.65 L620.00,98.18 L620.25,95.19 L620.50,94.60 L620.75,97.63 L621.00,91.66 L621.25,92.85 L621.50,94.45 L621.75,90.75 L622.00,91.46 L622.25,91.47 L622.50,92.13 L622.75,93.12 L623.00,95.03 L623.25,94.54 L623.50,94.38 L623.75,98.24 L624.00,97.98 L624.25,97.30 L624.50,95.44 L624.75,95.94 L625.00,96.23 L625.25,95.13 L625.50,97.59 L625.75,95.82 L626.00,96.26 L626.25,94.85 L626.50,97.48 L626.75,97.72 L627.00,97.47 L627.25,96.56 L627.50,98.58 L627.75,97.81 L628.00,96.86 L628.25,97.09 L628.50,100.55 L628.75,95.93 L629.00,100.22 L629.25,101.83 L629.50,101.11 L629.75,103.26 L630.00,100.23 L630.25,100.98 L630.50,99.68 L630.75,100.43 L631.00,97.04 L631.25,98.91 L631.50,96.57 L631.75,98.59 L632.00,97.86 L632.25,93.64 L632.50,97.87 L632.75,95.49 L633.00,92.68 L633.25,94.09 L633.50,91.30 L633.75,93.23 L634.00,90.71 L634.25,90.40 L634.50,91.13 L634.75,91.53 L635.00,93.02 L635.25,93.46 L635.50,91.14 L635.75,91.89 L636.00,88.54 L636.25,89.52 L636.50,91.46 L636.75,88.51 L637.00,92.13 L637.25,92.26 L637.50,91.26 L637.75,93.74 L638.00,91.70 L638.25,93.61 L638.50,90.03 L638.75,90.02 L639.00,91.98 L639.25,90.57 L639.50,89.98 L639.75,91.71 L640.00,89.96 L640.25,91.19 L640.50,92.31 L640.75,93.09 L641.00,88.95 L641.25,89.90 L641.50,92.19 L641.75,88.91 L642.00,90.30 L642.25,87.67 L642.50,91.83 L642.75,92.19 L643.00,93.43 L643.25,93.31 L643.50,94.51 L643.75,91.48 L644.00,94.55 L644.25,93.42 L644.50,94.40 L644.75,97.48 L645.00,99.65 L645.25,101.73 L645.50,103.61 L645.75,100.38 L646.00,102.41 L646.25,103.29 L646.50,104.79 L646.75,104.67 L647.00,105.40 L647.25,107.67 L647.50,107.56 L647.75,105.31 L648.00,105.07 L648.25,107.44 L648.50,109.34 L648.75,107.18 L649.00,105.17 L649.25,107.38 L649.50,106.85 L649.75,105.31 L650.00,104.20 L650.25,106.48 L650.50,103.61 L650.75,103.71 L651.00,105.46 L651.25,107.87 L651.50,106.51 L651.75,104.86 L652.00,105.39 L652.25,103.10 L652.50,104.11 L652.75,100.55 L653.00,100.54 L653.25,102.28 L653.50,99.94 L653.75,103.59 L654.00,101.99 L654.25,100.37 L654.50,98.70 L654.75,102.41 L655.00,99.86 L655.25,101.54 L655.50,102.26 L655.75,100.46 L656.00,98.99 L656.25,101.41 L656.50,99.58 L656.75,99.36 L657.00,100.83 L657.25,100.49 L657.50,102.56 L657.75,104.16 L658.00,106.14 L658.25,104.81 L658.50,101.36 L658.75,103.45 L659.00,102.57 L659.25,104.74 L659.50,100.96 L659.75,103.59 L660.00,106.25 L660.25,104.94 L660.50,104.16 L660.75,106.41 L661.00,107.25 L661.25,110.46 L661.50,107.90 L661.75,108.63 L662.00,111.28 L662.25,113.35 L662.50,111.19 L662.75,114.31 L663.00,115.46 L663.25,116.19 L663.50,113.70 L663.75,114.03 L664.00,116.48 L664.25,119.45 L664.50,118.90 L664.75,116.84 L665.00,119.89 L665.25,121.23 L665.50,123.19 L665.75,123.35 L666.00,124.37 L666.25,125.78 L666.50,124.27 L666.75,124.89 L667.00,127.17 L667.25,125.63 L667.50,128.04 L667.75,130.01 L668.00,129.11 L668.25,130.14 L668.50,130.82 L668.75,128.20 L669.00,131.26 L669.25,130.61 L669.50,127.53 L669.75,127.31 L670.00,127.37 L670.25,131.43 L670.50,128.27 L670.75,127.87 L671.00,132.07 L671.25,129.62 L671.50,130.35 L671.75,129.18 L672.00,125.69 L672.25,125.41 L672.50,126.98 L672.75,124.71 L673.00,124.69 L673.25,124.40 L673.50,123.56 L673.75,122.31 L674.00,118.41 L674.25,117.53 L674.50,119.95 L674.75,116.81 L675.00,118.19 L675.25,115.99 L675.50,120.31 L675.75,117.14 L676.00,119.46 L676.25,119.77 L676.50,119.63 L676.75,119.70 L677.00,115.63 L677.25,113.56 L677.50,110.34 L677.75,113.00 L678.00,112.65 L678.25,109.88 L678.50,114.10 L678.75,111.99 L679.00,111.42 L679.25,110.55 L679.50,111.46 L679.75,112.27 L680.00,111.34 L680.25,109.25 L680.50,112.73 L680.75,112.32 L681.00,112.98 L681.25,113.36 L681.50,114.88 L681.75,115.14 L682.00,114.20 L682.25,113.21 L682.50,115.40 L682.75,115.27 L683.00,117.54 L683.25,118.02 L683.50,117.49 L683.75,120.10 L684.00,121.00 L684.25,118.76 L684.50,121.44 L684.75,122.11 L685.00,123.31 L685.25,124.51 L685.50,121.72 L685.75,126.53 L686.00,125.21 L686.25,126.13 L686.50,126.49 L686.75,128.59 L687.00,126.76 L687.25,129.14 L687.50,127.62 L687.75,130.57 L688.00,131.19 L688.25,129.69 L688.50,130.53 L688.75,132.79 L689.00,132.01 L689.25,129.58 L689.50,128.70 L689.75,130.23 L690.00,127.22 L690.25,129.99 L690.50,130.67 L690.75,131.16 L691.00,129.97 L691.25,128.22 L691.50,130.00 L691.75,128.25 L692.00,128.15 L692.25,125.95 L692.50,123.85 L692.75,124.18 L693.00,122.75 L693.25,122.95 L693.50,122.10 L693.75,118.47 L694.00,120.57 L694.25,118.82 L694.50,120.88 L694.75,118.72 L695.00,116.88 L695.25,115.52 L695.50,114.72 L695.75,113.32 L696.00,111.62 L696.25,110.82 L696.50,108.76 L696.75,110.23 L697.00,107.76 L697.25,108.38 L697.50,106.55 L697.75,105.18 L698.00,102.76 L698.25,102.88 L698.50,102.22 L698.75,102.75 L699.00,101.42 L699.25,103.56 L699.50,103.07 L699.75,100.53 L700.00,97.86 L700.25,99.95 L700.50,97.58 L700.75,101.70 L701.00,99.87 L701.25,101.39 L701.50,102.60 L701.75,100.75 L702.00,102.03 L702.25,101.54 L702.50,102.60 L702.75,103.63 L703.00,102.63 L703.25,104.33 L703.50,101.37 L703.75,102.38 L704.00,101.54 L704.25,101.53 L704.50,102.39 L704.75,102.49 L705.00,101.41 L705.25,104.03 L705.50,106.63 L705.75,107.42 L706.00,106.38 L706.25,107.63 L706.50,107.46 L706.75,105.19 L707.00,106.34 L707.25,104.51 L707.50,105.05 L707.75,106.63 L708.00,108.15 L708.25,105.98 L708.50,105.68 L708.75,104.85 L709.00,107.63 L709.25,105.81 L709.50,106.14 L709.75,103.31 L710.00,104.08 L710.25,103.02 L710.50,101.82 L710.75,99.37 L711.00,100.46 L711.25,102.10 L711.50,100.26 L711.75,98.94 L712.00,100.66 L712.25,100.15 L712.50,101.34 L712.75,100.04 L713.00,100.06 L713.25,100.34 L713.50,99.11 L713.75,97.37 L714.00,99.53 L714.25,98.98 L714.50,98.15 L714.75,96.89 L715.00,95.36 L715.25,92.79 L715.50,94.96 L715.75,94.27 L716.00,93.97 L716.25,93.17 L716.50,92.35 L716.75,92.98 L717.00,92.51 L717.25,93.14 L717.50,94.12 L717.75,94.47 L718.00,94.94 L718.25,97.25 L718.50,93.70 L718.75,93.97 L719.00,93.00 L719.25,93.10 L719.50,95.06 L719.75,90.04 L720.00,92.76 L720.25,93.63 L720.50,91.95 L720.75,93.59 L721.00,93.82 L721.25,94.40 L721.50,94.82 L721.75,94.71 L722.00,96.44 L722.25,97.30 L722.50,98.69 L722.75,96.46 L723.00,97.28 L723.25,99.93 L723.50,97.31 L723.75,100.17 L724.00,101.61 L724.25,101.29 L724.50,101.34 L724.75,100.88 L725.00,100.73 L725.25,101.63 L725.50,101.92 L725.75,102.35 L726.00,103.78 L726.25,102.13 L726.50,104.47 L726.75,104.91 L727.00,103.93 L727.25,105.94 L727.50,104.95 L727.75,104.93 L728.00,108.93 L728.25,106.12 L728.50,105.81 L728.75,105.92 L729.00,107.12 L729.25,106.32 L729.50,103.03 L729.75,105.80 L730.00,103.62 L730.25,105.32 L730.50,104.87 L730.75,106.14 L731.00,105.65 L731.25,105.49 L731.50,106.23 L731.75,105.16 L732.00,101.84 L732.25,102.56 L732.50,102.62 L732.75,101.18 L733.00,101.22 L733.25,101.39 L733.50,103.97 L733.75,102.23 L734.00,101.02 L734.25,101.51 L734.50,99.25 L734.75,98.99 L735.00,98.78 L735.25,97.92 L735.50,98.09 L735.75,99.07 L736.00,96.14 L736.25,96.74 L736.50,97.16 L736.75,96.99 L737.00,96.19 L737.25,95.08 L737.50,92.47 L737.75,92.07 L738.00,91.84 L738.25,92.31 L738.50,94.90 L738.75,95.41 L739.00,95.04 L739.25,92.97 L739.50,94.74 L739.75,97.47 L740.00,98.01 L740.25,97.72 L740.50,97.45 L740.75,97.34 L741.00,99.00 L741.25,100.39 L741.50,98.29 L741.75,98.65 L742.00,97.60 L742.25,100.86 L742.50,104.05 L742.75,103.46 L743.00,106.75 L743.25,104.03 L743.50,105.21 L743.75,106.70 L744.00,107.64 L744.25,106.47 L744.50,109.01 L744.75,111.42 L745.00,113.46 L745.25,113.39 L745.50,112.58 L745.75,116.27 L746.00,114.65 L746.25,115.73 L746.50,115.69 L746.75,114.06 L747.00,116.99 L747.25,118.36 L747.50,119.27 L747.75,120.47 L748.00,121.80 L748.25,123.23 L748.50,123.34 L748.75,124.51 L749.00,121.88 L749.25,122.47 L749.50,125.20 L749.75,124.05 L750.00,123.24 L750.25,122.95 L750.50,124.32 L750.75,123.59 L751.00,126.64 L751.25,126.59 L751.50,124.32 L751.75,122.99 L752.00,126.01 L752.25,122.88 L752.50,124.07 L752.75,124.49 L753.00,123.27 L753.25,122.98 L753.50,120.36 L753.75,121.91 L754.00,118.78 L754.25,116.42 L754.50,117.00 L754.75,116.67 L755.00,118.01 L755.25,117.14 L755.50,114.67 L755.75,113.80 L756.00,114.91 L756.25,114.16 L756.50,116.25 L756.75,116.16 L757.00,115.87 L757.25,115.47 L757.50,114.77 L757.75,112.51 L758.00,113.68 L758.25,111.47 L758.50,114.73 L758.75,111.80 L759.00,110.49 L759.25,111.78 L759.50,109.86 L759.75,110.53 L760.00,107.32 L760.25,108.20 L760.50,112.32 L760.75,109.94 L761.00,109.90 L761.25,110.64 L761.50,108.89 L761.75,111.62 L762.00,110.60 L762.25,112.24 L762.50,110.53 L762.75,109.92 L763.00,112.28 L763.25,113.88 L763.50,112.96 L763.75,112.79 L764.00,114.97 L764.25,115.79 L764.50,116.97 L764.75,116.59 L765.00,117.48 L765.25,120.18 L765.50,120.45 L765.75,120.92 L766.00,122.19 L766.25,121.28 L766.50,122.99 L766.75,124.75 L767.00,123.96 L767.25,124.18 L767.50,125.78 L767.75,126.26 L768.00,125.71 L768.25,123.97 L768.50,127.08 L768.75,125.87 L769.00,125.80 L769.25,125.40 L769.50,126.88 L769.75,126.40 L770.00,129.46 L770.25,129.55 L770.50,130.37 L770.75,128.07 L771.00,130.68 L771.25,130.84 L771.50,128.22 L771.75,129.43 L772.00,129.12 L772.25,129.13 L772.50,127.51 L772.75,128.62 L773.00,126.37 L773.25,125.60 L773.50,123.64 L773.75,124.23 L774.00,121.91 L774.25,123.41 L774.50,122.32 L774.75,123.14 L775.00,120.70 L775.25,123.66 L775.50,121.39 L775.75,118.66 L776.00,119.09 L776.25,117.04 L776.50,116.20 L776.75,113.24 L777.00,112.68 L777.25,112.92 L777.50,114.80 L777.75,114.15 L778.00,112.07 L778.25,114.30 L778.50,112.18 L778.75,111.10 L779.00,113.99 L779.25,109.87 L779.50,110.59 L779.75,109.11 L780.00,107.34 L780.25,110.32 L780.50,110.68 L780.75,107.49 L781.00,107.68 L781.25,105.69 L781.50,104.47 L781.75,105.22 L782.00,103.06 L782.25,102.91 L782.50,102.71 L782.75,100.56 L783.00,100.93 L783.25,101.45 L783.50,103.58 L783.75,101.04 L784.00,100.56 L784.25,103.46 L784.50,100.29 L784.75,101.97 L785.00,101.47 L785.25,104.45 L785.50,101.56 L785.75,100.01 L786.00,100.96 L786.25,101.94 L786.50,100.88 L786.75,105.07 L787.00,101.80 L787.25,103.26 L787.50,100.97 L787.75,104.50 L788.00,101.66 L788.25,103.81 L788.50,104.89 L788.75,102.69 L789.00,103.24 L789.25,104.89 L789.50,103.93 L789.75,103.74 L790.00,105.99 L790.25,105.67 L790.50,105.31 L790.75,104.13 L791.00,104.41 L791.25,104.27 L791.50,102.78 L791.75,102.91 L792.00,102.89 L792.25,104.30 L792.50,106.39 L792.75,103.48 L793.00,103.20 L793.25,104.10 L793.50,103.42 L793.75,101.81 L794.00,101.29 L794.25,101.16 L794.50,102.66 L794.75,103.87 L795.00,103.67 L795.25,102.00 L795.50,102.14 L795.75,100.89 L796.00,98.66 L796.25,101.69 L796.50,96.99 L796.75,97.49 L797.00,99.35 L797.25,99.31 L797.50,97.74 L797.75,99.10 L798.00,96.66 L798.25,96.73 L798.50,94.08 L798.75,96.88 L799.00,92.92 L799.25,93.41 L799.50,94.01 L799.75,94.13 L800.00,92.10 L800.25,91.20 L800.50,90.26 L800.75,89.09 L801.00,90.37 L801.25,87.98 L801.50,93.26 L801.75,89.30 L802.00,89.42 L802.25,89.08 L802.50,88.69 L802.75,92.41 L803.00,90.05 L803.25,93.19 L803.50,91.80 L803.75,90.79 L804.00,93.25 L804.25,91.89 L804.50,90.22 L804.75,92.00 L805.00,93.13 L805.25,91.74 L805.50,90.53 L805.75,91.71 L806.00,91.76 L806.25,90.07 L806.50,89.00 L806.75,91.79 L807.00,91.49 L807.25,90.99 L807.50,92.35 L807.75,91.70 L808.00,94.01 L808.25,93.37 L808.50,91.65 L808.75,91.09 L809.00,92.30 L809.25,95.30 L809.50,93.48 L809.75,93.86 L810.00,97.70 L810.25,93.82 L810.50,97.26 L810.75,100.36 L811.00,97.83 L811.25,100.95 L811.50,100.05 L811.75,98.52 L812.00,99.23 L812.25,98.52 L812.50,98.69 L812.75,97.23 L813.00,98.61 L813.25,97.44 L813.50,98.03 L813.75,97.34 L814.00,100.36 L814.25,100.61 L814.50,98.60 L814.75,100.57 L815.00,100.01 L815.25,99.84 L815.50,100.19 L815.75,101.52 L816.00,98.96 L816.25,99.11 L816.50,100.12 L816.75,97.08 L817.00,97.98 L817.25,96.43 L817.50,98.81 L817.75,100.06 L818.00,99.78 L818.25,99.98 L818.50,100.54 L818.75,101.41 L819.00,99.43 L819.25,99.63 L819.50,98.26 L819.75,98.81 L820.00,100.38 L820.25,101.24 L820.50,101.34 L820.75,98.34 L821.00,103.71 L821.25,100.55 L821.50,99.34 L821.75,103.12 L822.00,103.59 L822.25,104.94 L822.50,104.13 L822.75,105.96 L823.00,108.94 L823.25,107.21 L823.50,109.08 L823.75,108.11 L824.00,106.50 L824.25,107.16 L824.50,106.11 L824.75,108.60 L825.00,110.50 L825.25,110.87 L825.50,112.21 L825.75,114.88 L826.00,114.37 L826.25,112.87 L826.50,114.40 L826.75,115.20 L827.00,112.60 L827.25,115.74 L827.50,115.28 L827.75,114.49" fill="none" stroke="#F06326" stroke-width="2.5" stroke-linejoin="round"/>
<path id="blue" d="M118.0,479.8 L118.2,497.7 L118.4,496.6 L118.6,496.8 L118.8,492.7 L119.0,488.8 L119.2,494.5 L119.4,500.4 L119.6,490.4 L119.8,492.1 L120.0,499.9 L120.2,487.7 L120.4,485.6 L120.6,492.0 L120.8,492.2 L121.0,489.0 L121.2,494.0 L121.4,495.4 L121.6,481.2 L121.8,484.9 L122.0,497.5 L122.2,496.5 L122.4,493.8 L122.6,488.1 L122.8,478.7 L123.0,500.3 L123.2,496.2 L123.4,488.3 L123.6,486.2 L123.8,498.2 L124.0,490.3 L124.2,485.8 L124.4,490.7 L124.6,499.4 L124.8,488.2 L125.0,479.4 L125.2,484.0 L125.4,483.7 L125.6,492.7 L125.8,484.7 L126.0,493.4 L126.2,486.6 L126.4,495.7 L126.6,492.9 L126.8,494.5 L127.0,500.7 L127.2,489.0 L127.4,496.9 L127.6,482.4 L127.8,491.1 L128.0,488.1 L128.2,479.8 L128.4,485.8 L128.6,481.4 L128.8,481.0 L129.0,484.6 L129.2,488.6 L129.4,490.7 L129.6,487.6 L129.8,495.6 L130.0,482.4 L130.2,483.2 L130.4,485.0 L130.6,499.2 L130.8,478.4 L131.0,488.8 L131.2,488.8 L131.4,478.4 L131.6,496.2 L131.8,495.7 L132.0,497.6 L132.2,494.8 L132.4,487.6 L132.6,489.5 L132.8,482.3 L133.0,494.3 L133.2,489.8 L133.4,496.5 L133.6,498.0 L133.8,489.5 L134.0,490.0 L134.2,488.2 L134.4,489.6 L134.6,486.5 L134.8,497.6 L135.0,494.8 L135.2,500.2 L135.4,483.5 L135.6,485.1 L135.8,478.7 L136.0,488.9 L136.2,484.9 L136.4,486.6 L136.6,490.0 L136.8,493.6 L137.0,493.5 L137.2,497.0 L137.4,483.7 L137.6,491.1 L137.8,498.1 L138.0,484.0 L138.2,487.5 L138.4,491.3 L138.6,497.3 L138.8,493.0 L139.0,491.0 L139.2,484.9 L139.4,493.5 L139.6,501.5 L139.8,486.8 L140.0,488.1 L140.2,480.8 L140.4,498.4 L140.6,481.7 L140.8,489.3 L141.0,482.8 L141.2,488.9 L141.4,494.4 L141.6,479.6 L141.8,494.1 L142.0,486.2 L142.2,483.7 L142.4,490.3 L142.6,499.6 L142.8,500.6 L143.0,487.8 L143.2,479.9 L143.4,485.9 L143.6,491.3 L143.8,480.2 L144.0,493.4 L144.2,489.6 L144.4,487.7 L144.6,482.2 L144.8,499.6 L145.0,486.2 L145.2,485.9 L145.4,499.5 L145.6,491.5 L145.8,489.6 L146.0,484.8 L146.2,493.3 L146.4,493.4 L146.6,499.7 L146.8,497.1 L147.0,487.0 L147.2,496.2 L147.4,504.9 L147.6,482.5 L147.8,493.0 L148.0,496.0 L148.2,497.8 L148.4,497.9 L148.6,488.7 L148.8,499.9 L149.0,487.3 L149.2,486.1 L149.4,485.9 L149.6,496.9 L149.8,479.9 L150.0,480.4 L150.2,478.5 L150.4,482.9 L150.6,484.6 L150.8,481.2 L151.0,478.2 L151.2,482.5 L151.4,491.1 L151.6,495.7 L151.8,489.0 L152.0,498.9 L152.2,483.3 L152.4,496.9 L152.6,481.3 L152.8,493.7 L153.0,485.0 L153.2,495.1 L153.4,495.1 L153.6,500.5 L153.8,485.5 L154.0,482.0 L154.2,496.5 L154.4,497.3 L154.6,492.1 L154.8,488.5 L155.0,491.7 L155.2,500.2 L155.4,482.4 L155.6,493.2 L155.8,498.5 L156.0,482.0 L156.2,498.6 L156.4,495.5 L156.6,487.8 L156.8,491.3 L157.0,493.1 L157.2,500.4 L157.4,497.8 L157.6,495.1 L157.8,487.0 L158.0,503.1 L158.2,486.3 L158.4,488.4 L158.6,495.0 L158.8,496.1 L159.0,482.5 L159.2,487.1 L159.4,483.0 L159.6,494.1 L159.8,491.0 L160.0,496.3 L160.2,487.6 L160.4,492.9 L160.6,498.5 L160.8,490.4 L161.0,497.2 L161.2,498.5 L161.4,490.3 L161.6,482.1 L161.8,492.0 L162.0,494.9 L162.2,484.2 L162.4,482.9 L162.6,487.8 L162.8,495.5 L163.0,488.1 L163.2,499.3 L163.4,486.3 L163.6,496.5 L163.8,485.6 L164.0,498.1 L164.2,485.7 L164.4,492.9 L164.6,491.7 L164.8,479.7 L165.0,486.0 L165.2,483.5 L165.4,491.3 L165.6,495.9 L165.8,485.3 L166.0,484.3 L166.2,479.1 L166.4,489.3 L166.6,484.0 L166.8,486.9 L167.0,501.1 L167.2,488.9 L167.4,485.2 L167.6,494.3 L167.8,480.0 L168.0,495.7 L168.2,500.0 L168.4,491.1 L168.6,484.3 L168.8,487.2 L169.0,496.3 L169.2,491.3 L169.4,501.0 L169.6,483.9 L169.8,488.5 L170.0,497.6 L170.2,490.9 L170.4,489.3 L170.6,483.2 L170.8,500.3 L171.0,486.1 L171.2,494.6 L171.4,492.5 L171.6,490.3 L171.8,498.1 L172.0,485.6 L172.2,490.5 L172.4,486.8 L172.6,494.2 L172.8,481.9 L173.0,485.6 L173.2,479.3 L173.4,485.2 L173.6,481.9 L173.8,484.7 L174.0,489.6 L174.2,486.4 L174.4,487.6 L174.6,481.3 L174.8,493.6 L175.0,489.3 L175.2,489.1 L175.4,482.1 L175.6,494.7 L175.8,484.9 L176.0,484.9 L176.2,481.2 L176.4,495.7 L176.6,489.9 L176.8,497.2 L177.0,492.9 L177.2,497.4 L177.4,478.9 L177.6,479.3 L177.8,493.1 L178.0,493.5 L178.2,497.1 L178.4,500.9 L178.6,495.5 L178.8,493.3 L179.0,491.1 L179.2,486.5 L179.4,500.3 L179.6,506.5 L179.8,490.2 L180.0,485.0 L180.2,496.6 L180.4,492.3 L180.6,498.6 L180.8,493.2 L181.0,492.8 L181.2,496.3 L181.4,491.0 L181.6,482.2 L181.8,491.3 L182.0,490.8 L182.2,490.6 L182.4,481.4 L182.6,492.4 L182.8,487.2 L183.0,488.7 L183.2,499.1 L183.4,494.4 L183.6,503.6 L183.8,496.6 L184.0,480.8 L184.2,492.7 L184.4,493.7 L184.6,496.4 L184.8,483.4 L185.0,485.5 L185.2,491.6 L185.4,484.4 L185.6,490.3 L185.8,486.9 L186.0,480.7 L186.2,479.4 L186.4,486.5 L186.6,489.1 L186.8,497.6 L187.0,495.8 L187.2,485.8 L187.4,492.2 L187.6,495.7 L187.8,502.2 L188.0,495.0 L188.2,494.8 L188.4,491.8 L188.6,477.9 L188.8,490.2 L189.0,483.4 L189.2,490.3 L189.4,491.5 L189.6,489.7 L189.8,482.6 L190.0,489.7 L190.2,483.6 L190.4,487.6 L190.6,493.3 L190.8,480.8 L191.0,497.1 L191.2,497.6 L191.4,488.5 L191.6,494.1 L191.8,495.8 L192.0,491.6 L192.2,489.8 L192.4,488.3 L192.6,485.8 L192.8,498.2 L193.0,495.6 L193.2,500.9 L193.4,490.5 L193.6,481.7 L193.8,481.7 L194.0,485.6 L194.2,486.2 L194.4,492.6 L194.6,488.1 L194.8,494.3 L195.0,489.7 L195.2,494.8 L195.4,487.3 L195.6,483.4 L195.8,486.6 L196.0,490.5 L196.2,488.0 L196.4,489.0 L196.6,492.7 L196.8,479.3 L197.0,488.7 L197.2,476.6 L197.4,485.6 L197.6,485.7 L197.8,479.3 L198.0,489.8 L198.2,479.3 L198.4,483.5 L198.6,495.7 L198.8,483.2 L199.0,493.5 L199.2,487.7 L199.4,493.8 L199.6,496.6 L199.8,480.3 L200.0,487.4 L200.2,483.3 L200.4,498.5 L200.6,488.1 L200.8,485.6 L201.0,492.0 L201.2,478.7 L201.4,488.4 L201.6,494.0 L201.8,495.6 L202.0,491.1 L202.2,495.9 L202.4,479.0 L202.6,490.0 L202.8,486.5 L203.0,488.0 L203.2,482.1 L203.4,487.0 L203.6,479.6 L203.8,486.1 L204.0,481.2 L204.2,498.4 L204.4,485.8 L204.6,488.3 L204.8,491.3 L205.0,495.9 L205.2,492.4 L205.4,482.3 L205.6,494.2 L205.8,489.7 L206.0,496.2 L206.2,484.5 L206.4,498.1 L206.6,488.6 L206.8,482.4 L207.0,500.9 L207.2,476.5 L207.4,501.4 L207.6,495.6 L207.8,486.1 L208.0,483.2 L208.2,483.1 L208.4,487.2 L208.6,492.7 L208.8,481.7 L209.0,490.3 L209.2,483.9 L209.4,488.4 L209.6,495.0 L209.8,488.6 L210.0,487.7 L210.2,485.2 L210.4,494.1 L210.6,495.0 L210.8,497.3 L211.0,497.3 L211.2,483.8 L211.4,481.4 L211.6,477.1 L211.8,482.2 L212.0,490.4 L212.2,484.0 L212.4,491.6 L212.6,482.0 L212.8,497.7 L213.0,484.2 L213.2,484.1 L213.4,490.6 L213.6,497.4 L213.8,479.4 L214.0,487.2 L214.2,480.7 L214.4,501.6 L214.6,483.9 L214.8,490.6 L215.0,491.8 L215.2,495.0 L215.4,498.0 L215.6,489.7 L215.8,489.8 L216.0,500.2 L216.2,493.0 L216.4,489.1 L216.6,494.6 L216.8,497.9 L217.0,479.5 L217.2,493.7 L217.4,489.8 L217.6,499.0 L217.8,475.9 L218.0,489.8 L218.2,487.5 L218.4,481.1 L218.6,488.0 L218.8,488.0 L219.0,481.3 L219.2,495.7 L219.4,488.2 L219.6,490.2 L219.8,500.3 L220.0,491.4 L220.2,482.9 L220.4,493.4 L220.6,487.2 L220.8,499.3 L221.0,500.1 L221.2,486.3 L221.4,480.8 L221.6,498.2 L221.8,493.2 L222.0,494.6 L222.2,490.4 L222.4,502.6 L222.6,482.0 L222.8,498.6 L223.0,482.0 L223.2,496.3 L223.4,487.7 L223.6,482.3 L223.8,490.6 L224.0,480.3 L224.2,493.2 L224.4,490.3 L224.6,484.9 L224.8,482.7 L225.0,496.5 L225.2,494.6 L225.4,490.7 L225.6,501.3 L225.8,480.5 L226.0,488.6 L226.2,480.2 L226.4,496.9 L226.6,494.7 L226.8,489.2 L227.0,491.1 L227.2,495.8 L227.4,489.3 L227.6,490.7 L227.8,484.2 L228.0,492.0 L228.2,494.3 L228.4,490.5 L228.6,492.9 L228.8,490.9 L229.0,493.6 L229.2,496.4 L229.4,481.3 L229.6,493.9 L229.8,495.4 L230.0,485.9 L230.2,486.6 L230.4,493.1 L230.6,494.3 L230.8,479.5 L231.0,491.5 L231.2,493.4 L231.4,485.4 L231.6,494.6 L231.8,489.3 L232.0,482.3 L232.2,499.6 L232.4,477.3 L232.6,495.8 L232.8,491.5 L233.0,479.2 L233.2,481.5 L233.4,486.7 L233.6,490.7 L233.8,495.8 L234.0,485.7 L234.2,492.3 L234.4,485.8 L234.6,498.8 L234.8,483.8 L235.0,479.8 L235.2,491.4 L235.4,495.8 L235.6,483.3 L235.8,494.2 L236.0,483.5 L236.2,497.0 L236.4,487.8 L236.6,493.4 L236.8,486.9 L237.0,490.9 L237.2,493.5 L237.4,478.4 L237.6,478.0 L237.8,487.8 L238.0,488.0 L238.2,482.4 L238.4,477.9 L238.6,483.5 L238.8,495.6 L239.0,489.2 L239.2,487.8 L239.4,497.0 L239.6,477.5 L239.8,495.1 L240.0,495.4 L240.2,489.1 L240.4,494.6 L240.6,488.6 L240.8,479.4 L241.0,484.5 L241.2,495.0 L241.4,485.1 L241.6,485.6 L241.8,494.5 L242.0,497.0 L242.2,490.8 L242.4,485.1 L242.6,491.7 L242.8,485.6 L243.0,497.3 L243.2,492.3 L243.4,482.2 L243.6,480.2 L243.8,493.9 L244.0,483.7 L244.2,497.7 L244.4,499.4 L244.6,489.7 L244.8,482.0 L245.0,493.8 L245.2,481.7 L245.4,477.2 L245.6,480.9 L245.8,493.9 L246.0,498.0 L246.2,491.3 L246.4,497.4 L246.6,478.9 L246.8,493.2 L247.0,493.2 L247.2,495.6 L247.4,490.0 L247.6,480.1 L247.8,488.2 L248.0,486.3 L248.2,497.6 L248.4,494.7 L248.6,497.8 L248.8,487.5 L249.0,480.9 L249.2,496.1 L249.4,491.1 L249.6,493.1 L249.8,487.7 L250.0,490.7 L250.2,484.0 L250.4,499.5 L250.6,483.9 L250.8,497.4 L251.0,499.3 L251.2,486.6 L251.4,485.7 L251.6,487.1 L251.8,491.7 L252.0,485.2 L252.2,480.4 L252.4,498.6 L252.6,492.4 L252.8,491.7 L253.0,480.9 L253.2,487.6 L253.4,494.3 L253.6,480.9 L253.8,499.7 L254.0,481.4 L254.2,485.4 L254.4,495.3 L254.6,483.0 L254.8,500.3 L255.0,484.0 L255.2,480.5 L255.4,493.8 L255.6,481.4 L255.8,479.4 L256.0,496.8 L256.2,495.8 L256.4,486.9 L256.6,496.0 L256.8,484.9 L257.0,496.2 L257.2,490.5 L257.4,502.1 L257.6,484.3 L257.8,494.8 L258.0,482.8 L258.2,481.4 L258.4,489.9 L258.6,489.2 L258.8,493.0 L259.0,485.8 L259.2,483.8 L259.4,497.6 L259.6,479.6 L259.8,488.5 L260.0,499.7 L260.2,493.6 L260.4,495.4 L260.6,484.6 L260.8,483.2 L261.0,498.4 L261.2,491.2 L261.4,484.2 L261.6,498.2 L261.8,497.9 L262.0,495.5 L262.2,486.4 L262.4,486.2 L262.6,494.8 L262.8,482.2 L263.0,495.2 L263.2,487.0 L263.4,490.0 L263.6,494.7 L263.8,481.5 L264.0,496.7 L264.2,489.4 L264.4,482.3 L264.6,481.9 L264.8,478.1 L265.0,490.0 L265.2,492.6 L265.4,483.8 L265.6,487.6 L265.8,487.2 L266.0,501.3 L266.2,479.0 L266.4,479.6 L266.6,492.8 L266.8,488.0 L267.0,495.3 L267.2,488.5 L267.4,497.3 L267.6,488.0 L267.8,484.5 L268.0,486.0 L268.2,492.9 L268.4,481.9 L268.6,494.7 L268.8,490.5 L269.0,495.8 L269.2,482.5 L269.4,495.8 L269.6,490.2 L269.8,496.5 L270.0,491.4 L270.2,493.8 L270.4,496.5 L270.6,492.9 L270.8,499.8 L271.0,493.4 L271.2,485.6 L271.4,498.7 L271.6,480.7 L271.8,495.2 L272.0,489.5 L272.2,497.4 L272.4,477.7 L272.6,486.1 L272.8,499.3 L273.0,490.0 L273.2,481.2 L273.4,492.0 L273.6,491.3 L273.8,488.6 L274.0,485.6 L274.2,476.5 L274.4,498.7 L274.6,494.6 L274.8,502.0 L275.0,488.8 L275.2,483.4 L275.4,477.5 L275.6,492.9 L275.8,495.2 L276.0,497.5 L276.2,486.4 L276.4,485.6 L276.6,484.5 L276.8,501.3 L277.0,488.7 L277.2,492.3 L277.4,497.2 L277.6,494.6 L277.8,489.8 L278.0,495.1 L278.2,494.8 L278.4,495.4 L278.6,483.2 L278.8,493.8 L279.0,482.7 L279.2,481.3 L279.4,489.9 L279.6,495.0 L279.8,486.4 L280.0,495.3 L280.2,493.9 L280.4,491.9 L280.6,495.0 L280.8,497.6 L281.0,495.2 L281.2,488.0 L281.4,486.4 L281.6,492.3 L281.8,491.8 L282.0,492.6 L282.2,487.7 L282.4,482.0 L282.6,502.0 L282.8,497.4 L283.0,493.7 L283.2,479.6 L283.4,489.3 L283.6,486.8 L283.8,479.6 L284.0,482.9 L284.2,482.8 L284.4,490.0 L284.6,493.2 L284.8,493.9 L285.0,490.0 L285.2,492.2 L285.4,490.5 L285.6,498.2 L285.8,488.9 L286.0,479.7 L286.2,488.4 L286.4,484.5 L286.6,484.6 L286.8,484.4 L287.0,498.6 L287.2,492.5 L287.4,486.0 L287.6,493.5 L287.8,491.2 L288.0,480.6 L288.2,499.3 L288.4,498.9 L288.6,489.6 L288.8,494.5 L289.0,494.5 L289.2,487.0 L289.4,478.7 L289.6,492.3 L289.8,484.7 L290.0,495.1 L290.2,486.0 L290.4,486.8 L290.6,500.0 L290.8,484.9 L291.0,483.8 L291.2,490.6 L291.4,489.2 L291.6,497.4 L291.8,483.1 L292.0,478.5 L292.2,496.6 L292.4,480.9 L292.6,487.9 L292.8,487.4 L293.0,486.5 L293.2,492.5 L293.4,488.5 L293.6,493.3 L293.8,483.3 L294.0,490.7 L294.2,485.3 L294.4,490.2 L294.6,484.8 L294.8,486.8 L295.0,495.3 L295.2,477.7 L295.4,486.8 L295.6,498.2 L295.8,483.9 L296.0,478.3 L296.2,498.6 L296.4,481.7 L296.6,490.2 L296.8,495.3 L297.0,497.4 L297.2,499.2 L297.4,498.7 L297.6,497.0 L297.8,495.0 L298.0,488.1 L298.2,488.0 L298.4,494.0 L298.6,492.4 L298.8,495.3 L299.0,480.2 L299.2,484.0 L299.4,497.1 L299.6,483.6 L299.8,491.6 L300.0,498.5 L300.2,476.1 L300.4,496.2 L300.6,494.7 L300.8,491.1 L301.0,482.0 L301.2,496.4 L301.4,486.5 L301.6,492.7 L301.8,480.7 L302.0,496.1 L302.2,498.7 L302.4,494.5 L302.6,502.5 L302.8,485.9 L303.0,494.5 L303.2,487.3 L303.4,479.9 L303.6,494.9 L303.8,502.0 L304.0,481.7 L304.2,487.4 L304.4,490.2 L304.6,499.7 L304.8,488.9 L305.0,484.0 L305.2,498.7 L305.4,500.8 L305.6,481.9 L305.8,495.9 L306.0,497.3 L306.2,489.7 L306.4,498.0 L306.6,491.3 L306.8,501.9 L307.0,492.3 L307.2,489.8 L307.4,496.1 L307.6,490.2 L307.8,485.5 L308.0,477.8 L308.2,477.5 L308.4,485.1 L308.6,491.1 L308.8,493.4 L309.0,488.3 L309.2,494.0 L309.4,483.6 L309.6,485.3 L309.8,492.7 L310.0,496.8 L310.2,492.1 L310.4,491.9 L310.6,498.1 L310.8,501.9 L311.0,498.4 L311.2,485.3 L311.4,496.0 L311.6,484.7 L311.8,499.6 L312.0,494.2 L312.2,479.1 L312.4,483.1 L312.6,490.6 L312.8,494.3 L313.0,485.5 L313.2,489.1 L313.4,497.8 L313.6,493.8 L313.8,491.5 L314.0,487.2 L314.2,488.2 L314.4,493.8 L314.6,479.9 L314.8,495.5 L315.0,493.3 L315.2,497.2 L315.4,483.0 L315.6,487.8 L315.8,487.4 L316.0,487.4 L316.2,492.3 L316.4,490.5 L316.6,499.0 L316.8,492.6 L317.0,495.8 L317.2,496.1 L317.4,496.1 L317.6,481.5 L317.8,487.0 L318.0,475.7 L318.2,491.3 L318.4,493.1 L318.6,487.5 L318.8,485.7 L319.0,483.4 L319.2,498.6 L319.4,489.4 L319.6,478.7 L319.8,491.6 L320.0,488.9 L320.2,484.7 L320.4,493.4 L320.6,488.3 L320.8,494.2 L321.0,492.8 L321.2,497.9 L321.4,489.3 L321.6,480.7 L321.8,484.1 L322.0,496.0 L322.2,484.5 L322.4,488.9 L322.6,485.0 L322.8,497.5 L323.0,486.5 L323.2,483.7 L323.4,496.5 L323.6,492.9 L323.8,492.2 L324.0,496.5 L324.2,496.6 L324.4,480.3 L324.6,496.9 L324.8,488.7 L325.0,494.4 L325.2,486.7 L325.4,486.1 L325.6,488.1 L325.8,481.5 L326.0,500.1 L326.2,485.1 L326.4,490.9 L326.6,484.0 L326.8,477.1 L327.0,480.6 L327.2,489.3 L327.4,489.0 L327.6,491.2 L327.8,487.7 L328.0,487.9 L328.2,490.2 L328.4,484.1 L328.6,487.0 L328.8,495.5 L329.0,502.5 L329.2,489.8 L329.4,481.7 L329.6,494.9 L329.8,491.8 L330.0,481.6 L330.2,483.6 L330.4,493.4 L330.6,480.3 L330.8,490.3 L331.0,496.9 L331.2,488.5 L331.4,487.0 L331.6,494.3 L331.8,489.7 L332.0,496.3 L332.2,478.2 L332.4,499.3 L332.6,482.1 L332.8,487.5 L333.0,493.5 L333.2,491.0 L333.4,484.9 L333.6,492.9 L333.8,492.6 L334.0,495.7 L334.2,484.8 L334.4,482.2 L334.6,489.7 L334.8,490.2 L335.0,497.7 L335.2,483.8 L335.4,491.8 L335.6,485.9 L335.8,494.0 L336.0,488.4 L336.2,498.0 L336.4,496.1 L336.6,479.1 L336.8,493.9 L337.0,484.8 L337.2,486.6 L337.4,481.4 L337.6,493.5 L337.8,498.3 L338.0,491.4 L338.2,485.9 L338.4,484.7 L338.6,494.0 L338.8,502.3 L339.0,486.9 L339.2,490.3 L339.4,482.3 L339.6,482.3 L339.8,487.8 L340.0,485.6 L340.2,484.6 L340.4,488.7 L340.6,483.7 L340.8,483.1 L341.0,496.4 L341.2,500.2 L341.4,480.1 L341.6,498.7 L341.8,487.9 L342.0,496.7 L342.2,485.4 L342.4,477.7 L342.6,498.7 L342.8,487.0 L343.0,485.2 L343.2,487.1 L343.4,496.7 L343.6,485.6 L343.8,489.8 L344.0,494.3 L344.2,480.2 L344.4,500.6 L344.6,495.8 L344.8,492.4 L345.0,489.4 L345.2,496.7 L345.4,481.0 L345.6,475.8 L345.8,491.7 L346.0,492.4 L346.2,484.4 L346.4,495.8 L346.6,487.1 L346.8,486.2 L347.0,493.9 L347.2,489.0 L347.4,481.0 L347.6,485.1 L347.8,476.9 L348.0,488.4 L348.2,488.7 L348.4,480.2 L348.6,486.1 L348.8,491.3 L349.0,479.1 L349.2,486.5 L349.4,479.0 L349.6,490.8 L349.8,494.3 L350.0,481.7 L350.2,488.6 L350.4,496.4 L350.6,480.3 L350.8,487.7 L351.0,487.7 L351.2,483.4 L351.4,498.4 L351.6,482.9 L351.8,497.3 L352.0,498.9 L352.2,486.9 L352.4,496.3 L352.6,499.6 L352.8,483.9 L353.0,496.7 L353.2,491.7 L353.4,479.0 L353.6,487.1 L353.8,496.3 L354.0,500.5 L354.2,495.7 L354.6,489.0 L354.9,300.0 L355.6,171.7 L356.3,260.0 L356.6,308.6 L356.8,295.1 L356.9,291.6 L357.1,287.1 L357.2,291.1 L357.4,283.7 L357.6,313.0 L357.7,317.0 L357.9,299.4 L358.0,315.8 L358.2,286.1 L358.4,315.5 L358.5,319.4 L358.7,307.9 L358.8,320.1 L359.0,312.0 L359.2,310.2 L359.3,297.0 L359.5,283.7 L359.6,287.2 L359.8,314.7 L360.0,289.6 L360.1,313.1 L360.3,289.1 L360.4,317.2 L360.6,324.3 L360.8,313.1 L360.9,292.4 L361.1,316.7 L361.2,311.3 L361.4,323.3 L361.6,305.4 L361.7,308.4 L361.9,323.1 L362.0,322.6 L362.2,324.2 L362.4,318.3 L362.5,321.7 L362.7,326.6 L362.8,322.0 L363.0,312.0 L363.2,316.5 L363.3,313.4 L363.5,312.5 L363.6,313.3 L363.8,318.8 L364.0,323.7 L364.1,328.1 L364.3,319.5 L364.4,313.9 L364.6,325.1 L364.8,330.4 L364.9,337.5 L365.1,312.7 L365.2,325.3 L365.4,324.3 L365.6,323.8 L365.7,315.1 L365.9,330.3 L366.0,323.0 L366.2,308.3 L366.4,319.5 L366.5,326.7 L366.7,310.8 L366.8,329.3 L367.0,315.2 L367.2,320.5 L367.3,317.4 L367.5,311.7 L367.6,328.6 L367.8,316.3 L368.0,326.5 L368.1,335.2 L368.3,318.6 L368.4,306.5 L368.6,320.3 L368.8,313.7 L368.9,331.4 L369.1,309.6 L369.2,323.9 L369.4,310.5 L369.6,315.4 L369.7,308.1 L369.9,325.4 L370.0,320.1 L370.2,323.6 L370.4,308.3 L370.5,312.6 L370.7,325.8 L370.8,321.5 L371.0,326.0 L371.2,317.6 L371.3,308.4 L371.5,329.5 L371.6,310.3 L371.8,305.4 L372.0,320.5 L372.1,302.2 L372.3,324.8 L372.4,322.1 L372.6,310.0 L372.8,315.6 L372.9,316.5 L373.1,298.4 L373.2,302.1 L373.4,312.4 L373.6,296.5 L373.7,303.3 L373.9,304.9 L374.0,313.4 L374.2,305.3 L374.4,297.5 L374.5,313.3 L374.7,314.6 L374.8,311.1 L375.0,311.0 L375.2,301.6 L375.3,313.7 L375.5,307.4 L375.6,294.4 L375.8,306.9 L376.0,311.7 L376.1,308.2 L376.3,302.9 L376.4,308.8 L376.6,308.2 L376.8,302.1 L376.9,295.0 L377.1,293.7 L377.2,310.2 L377.4,301.8 L377.6,298.2 L377.7,291.8 L377.9,297.0 L378.0,299.6 L378.2,303.7 L378.4,307.4 L378.5,297.0 L378.7,291.7 L378.8,289.4 L379.0,290.8 L379.2,294.4 L379.3,303.4 L379.5,297.2 L379.6,296.6 L379.8,301.4 L380.0,283.2 L380.1,287.7 L380.3,296.9 L380.4,283.9 L380.6,281.5 L380.8,298.9 L380.9,290.0 L381.1,284.2 L381.2,281.9 L381.4,295.2 L381.6,289.6 L381.7,285.0 L381.9,297.8 L382.0,291.4 L382.2,302.6 L382.4,281.8 L382.5,291.7 L382.7,284.2 L382.8,283.3 L383.0,285.4 L383.2,275.2 L383.3,276.2 L383.5,273.5 L383.6,287.3 L383.8,286.1 L384.0,274.5 L384.1,277.9 L384.3,291.6 L384.4,282.6 L384.6,278.0 L384.8,290.9 L384.9,282.5 L385.1,283.7 L385.2,282.8 L385.4,268.5 L385.6,276.0 L385.7,287.0 L385.9,286.6 L386.0,284.9 L386.2,269.2 L386.4,278.1 L386.5,270.8 L386.7,269.8 L386.8,269.7 L387.0,269.3 L387.2,265.5 L387.3,269.9 L387.5,272.8 L387.6,277.9 L387.8,280.8 L388.0,272.3 L388.1,276.3 L388.3,269.8 L388.4,268.3 L388.6,272.0 L388.8,276.5 L388.9,284.6 L389.1,278.3 L389.2,260.6 L389.4,278.2 L389.6,263.0 L389.7,274.6 L389.9,279.2 L390.0,277.4 L390.2,263.8 L390.4,269.4 L390.5,264.4 L390.7,270.9 L390.8,272.2 L391.0,273.5 L391.2,265.5 L391.3,270.3 L391.5,262.3 L391.6,277.0 L391.8,279.5 L392.0,254.1 L392.1,270.2 L392.3,272.9 L392.4,259.3 L392.6,257.7 L392.8,256.7 L392.9,271.0 L393.1,252.2 L393.2,261.4 L393.4,271.3 L393.6,259.7 L393.7,268.7 L393.9,263.8 L394.0,261.4 L394.2,264.6 L394.4,263.5 L394.5,269.6 L394.7,264.0 L394.8,265.0 L395.0,258.1 L395.2,265.0 L395.3,278.8 L395.5,276.6 L395.6,253.0 L395.8,263.0 L396.0,268.1 L396.1,263.3 L396.3,257.8 L396.4,262.1 L396.6,267.2 L396.8,269.4 L396.9,270.4 L397.1,268.3 L397.2,272.2 L397.4,253.6 L397.6,263.6 L397.7,261.0 L397.9,262.8 L398.0,262.7 L398.2,265.3 L398.4,266.9 L398.5,260.3 L398.7,279.0 L398.8,278.3 L399.0,271.7 L399.2,264.8 L399.3,269.6 L399.5,277.6 L399.6,274.1 L399.8,274.8 L400.0,276.7 L400.1,281.5 L400.3,275.2 L400.4,261.0 L400.6,270.1 L400.8,277.3 L400.9,262.6 L401.1,261.3 L401.2,263.3 L401.4,259.5 L401.6,270.5 L401.7,276.5 L401.9,275.5 L402.0,277.8 L402.2,266.8 L402.4,266.8 L402.5,279.2 L402.7,258.2 L402.8,268.4 L403.0,265.9 L403.2,272.1 L403.3,274.9 L403.5,266.4 L403.6,271.1 L403.8,262.2 L404.0,268.3 L404.1,276.1 L404.3,272.9 L404.4,272.9 L404.6,267.9 L404.8,266.5 L404.9,266.9 L405.1,258.7 L405.2,262.6 L405.4,258.9 L405.6,267.6 L405.7,267.9 L405.9,274.0 L406.0,254.9 L406.2,261.7 L406.4,257.4 L406.5,267.3 L406.7,259.3 L406.8,255.9 L407.0,256.4 L407.2,272.1 L407.3,259.3 L407.5,270.0 L407.6,258.9 L407.8,257.3 L408.0,264.3 L408.1,267.8 L408.3,251.7 L408.4,272.4 L408.6,262.3 L408.8,267.4 L408.9,269.9 L409.1,261.1 L409.2,269.1 L409.4,247.4 L409.6,255.0 L409.7,253.7 L409.9,249.1 L410.0,251.7 L410.2,258.4 L410.4,242.9 L410.5,252.9 L410.7,252.6 L410.8,242.2 L411.0,250.4 L411.2,244.1 L411.3,252.5 L411.5,251.7 L411.6,253.8 L411.8,250.8 L412.0,255.9 L412.1,246.2 L412.3,241.7 L412.4,239.3 L412.6,252.0 L412.8,250.9 L412.9,258.2 L413.1,254.9 L413.2,247.4 L413.4,254.5 L413.6,249.2 L413.7,249.2 L413.9,252.2 L414.0,249.0 L414.2,253.4 L414.4,256.3 L414.5,244.1 L414.7,253.4 L414.8,241.7 L415.0,243.1 L415.2,249.6 L415.3,253.7 L415.5,254.4 L415.6,251.3 L415.8,254.5 L416.0,251.8 L416.1,245.6 L416.3,241.1 L416.4,237.2 L416.6,249.2 L416.8,250.8 L416.9,252.2 L417.1,246.9 L417.2,247.7 L417.4,244.9 L417.6,247.8 L417.7,249.0 L417.9,238.9 L418.0,244.1 L418.2,244.4 L418.4,245.4 L418.5,238.9 L418.7,238.6 L418.8,244.8 L419.0,238.9 L419.2,250.2 L419.3,239.7 L419.5,247.6 L419.6,241.6 L419.8,254.6 L420.0,238.4 L420.1,233.8 L420.3,246.7 L420.4,250.5 L420.6,237.8 L420.8,240.2 L420.9,247.4 L421.1,237.5 L421.2,242.6 L421.4,242.5 L421.6,235.7 L421.7,234.6 L421.9,254.8 L422.0,233.8 L422.2,253.3 L422.4,250.8 L422.5,240.2 L422.7,252.7 L422.8,234.4 L423.0,245.1 L423.2,236.4 L423.3,235.0 L423.5,245.1 L423.6,232.5 L423.8,249.2 L424.0,234.8 L424.1,248.5 L424.3,236.7 L424.4,241.5 L424.6,250.9 L424.8,250.2 L424.9,230.9 L425.1,237.8 L425.2,239.6 L425.4,243.9 L425.6,231.3 L425.7,245.5 L425.9,244.1 L426.0,249.6 L426.2,232.4 L426.4,231.7 L426.5,244.3 L426.7,238.6 L426.8,230.9 L427.0,228.0 L427.2,231.0 L427.3,242.1 L427.5,242.4 L427.6,233.4 L427.8,242.4 L428.0,234.2 L428.1,232.6 L428.3,236.6 L428.4,230.2 L428.6,230.5 L428.8,241.3 L428.9,227.5 L429.1,223.9 L429.2,228.6 L429.4,237.0 L429.6,230.2 L429.7,220.3 L429.9,230.0 L430.0,229.4 L430.2,218.4 L430.4,237.3 L430.5,232.6 L430.7,220.3 L430.8,228.5 L431.0,220.2 L431.2,220.4 L431.3,220.5 L431.5,214.9 L431.6,226.6 L431.8,220.3 L432.0,226.2 L432.1,231.0 L432.3,225.6 L432.4,220.5 L432.6,215.1 L432.8,224.8 L432.9,232.9 L433.1,224.0 L433.2,216.7 L433.4,213.0 L433.6,229.2 L433.7,222.3 L433.9,212.3 L434.0,222.7 L434.2,208.9 L434.4,223.0 L434.5,218.2 L434.7,226.3 L434.8,214.1 L435.0,221.4 L435.2,225.7 L435.3,230.2 L435.5,225.5 L435.6,215.9 L435.8,230.0 L436.0,223.2 L436.1,225.4 L436.3,226.1 L436.4,213.2 L436.6,228.0 L436.8,218.7 L436.9,213.0 L437.1,214.0 L437.2,214.5 L437.4,222.2 L437.6,229.8 L437.7,213.8 L437.9,216.4 L438.0,225.0 L438.2,210.7 L438.4,213.2 L438.5,225.6 L438.7,205.9 L438.8,223.7 L439.0,224.1 L439.2,218.8 L439.3,213.0 L439.5,212.1 L439.6,216.7 L439.8,225.1 L440.0,221.8 L440.1,224.3 L440.3,223.4 L440.4,214.6 L440.6,219.7 L440.8,211.8 L440.9,215.7 L441.1,227.5 L441.2,212.8 L441.4,221.6 L441.6,222.0 L441.7,211.6 L441.9,224.0 L442.0,211.1 L442.2,226.5 L442.4,212.8 L442.5,219.9 L442.7,226.0 L442.8,222.5 L443.0,215.7 L443.2,209.5 L443.3,221.7 L443.5,217.4 L443.6,205.5 L443.8,212.3 L444.0,224.8 L444.1,214.9 L444.3,207.9 L444.4,216.7 L444.6,213.5 L444.8,222.9 L444.9,214.3 L445.1,200.6 L445.2,204.2 L445.4,201.1 L445.6,223.2 L445.7,211.7 L445.9,211.6 L446.0,221.5 L446.2,207.8 L446.4,213.5 L446.5,219.5 L446.7,215.6 L446.8,201.9 L447.0,208.2 L447.2,206.5 L447.3,216.7 L447.5,203.1 L447.6,203.1 L447.8,204.5 L448.0,199.3 L448.1,208.8 L448.3,201.7 L448.4,202.5 L448.6,202.0 L448.8,204.1 L448.9,202.2 L449.1,202.9 L449.2,211.0 L449.4,197.2 L449.6,210.7 L449.7,198.5 L449.9,196.5 L450.0,197.3 L450.2,210.1 L450.4,191.1 L450.5,199.9 L450.7,208.5 L450.8,195.5 L451.0,197.8 L451.2,197.0 L451.3,207.9 L451.5,195.3 L451.6,210.2 L451.8,190.9 L452.0,201.6 L452.1,206.2 L452.3,200.9 L452.4,199.6 L452.6,197.3 L452.8,193.5 L452.9,206.2 L453.1,193.4 L453.2,203.0 L453.4,198.2 L453.6,207.2 L453.7,189.5 L453.9,191.0 L454.0,203.6 L454.2,203.4 L454.4,198.1 L454.5,197.8 L454.7,204.7 L454.8,206.1 L455.0,197.0 L455.2,188.0 L455.3,205.5 L455.5,185.7 L455.6,205.5 L455.8,186.3 L456.0,200.5 L456.1,199.1 L456.3,186.9 L456.4,199.3 L456.6,203.1 L456.8,188.7 L456.9,202.9 L457.1,200.5 L457.2,196.1 L457.4,208.4 L457.6,190.7 L457.7,191.4 L457.9,204.8 L458.0,190.7 L458.2,202.8 L458.4,191.1 L458.5,206.4 L458.7,193.8 L458.8,198.1 L459.0,198.3 L459.2,196.0 L459.3,198.0 L459.5,201.6 L459.6,187.1 L459.8,205.5 L460.0,202.8 L460.1,190.6 L460.3,191.8 L460.4,190.8 L460.6,202.6 L460.8,197.3 L460.9,190.3 L461.1,201.7 L461.2,193.8 L461.4,199.9 L461.6,202.7 L461.7,188.3 L461.9,196.2 L462.0,196.4 L462.2,208.0 L462.4,194.9 L462.5,196.9 L462.7,203.0 L462.8,190.7 L463.0,203.2 L463.2,191.6 L463.3,193.3 L463.5,203.1 L463.6,190.0 L463.8,192.7 L464.0,185.6 L464.1,199.6 L464.3,194.2 L464.4,189.3 L464.6,193.8 L464.8,187.1 L464.9,196.2 L465.1,189.7 L465.2,195.9 L465.4,199.8 L465.6,188.3 L465.7,204.0 L465.9,191.5 L466.0,196.2 L466.2,186.2 L466.4,197.2 L466.5,198.1 L466.7,199.0 L466.8,201.0 L467.0,192.3 L467.2,185.3 L467.3,197.6 L467.5,194.9 L467.6,192.4 L467.8,191.7 L468.0,184.2 L468.1,187.0 L468.3,185.2 L468.4,190.2 L468.6,197.3 L468.8,191.7 L468.9,194.7 L469.1,181.9 L469.2,181.4 L469.4,186.7 L469.6,179.3 L469.7,180.8 L469.9,179.9 L470.0,182.8 L470.2,189.1 L470.4,186.9 L470.5,191.8 L470.7,197.2 L470.8,179.2 L471.0,193.1 L471.2,188.6 L471.3,185.3 L471.5,188.7 L471.6,182.0 L471.8,171.6 L472.0,174.1 L472.1,177.2 L472.3,183.1 L472.4,181.0 L472.6,185.7 L472.8,170.1 L472.9,173.0 L473.1,182.4 L473.2,185.0 L473.4,178.3 L473.6,174.9 L473.7,174.7 L473.9,184.5 L474.0,186.2 L474.2,176.6 L474.4,188.6 L474.5,170.6 L474.7,171.5 L474.8,179.1 L475.0,186.3 L475.2,182.9 L475.3,186.8 L475.5,188.8 L475.6,178.8 L475.8,171.2 L476.0,180.0 L476.1,182.3 L476.3,175.1 L476.4,171.9 L476.6,184.4 L476.8,191.4 L476.9,186.1 L477.1,178.1 L477.2,180.4 L477.4,183.8 L477.6,186.0 L477.7,177.3 L477.9,187.9 L478.0,184.0 L478.2,173.7 L478.4,176.6 L478.5,170.4 L478.7,179.5 L478.8,178.8 L479.0,184.1 L479.2,173.6 L479.3,183.4 L479.5,185.9 L479.6,176.8 L479.8,184.1 L480.0,180.0 L480.1,180.0 L480.3,177.6 L480.4,184.7 L480.6,170.2 L480.8,186.2 L480.9,184.9 L481.1,170.1 L481.2,184.8 L481.4,176.9 L481.6,176.9 L481.7,182.2 L481.9,185.7 L482.0,177.4 L482.2,185.0 L482.4,174.7 L482.5,171.3 L482.7,185.9 L482.8,183.3 L483.0,168.0 L483.2,188.1 L483.3,176.4 L483.5,180.1 L483.6,177.6 L483.8,183.6 L484.0,175.4 L484.1,183.2 L484.3,176.5 L484.4,179.4 L484.6,177.5 L484.8,172.2 L484.9,187.1 L485.1,177.6 L485.2,187.5 L485.4,170.0 L485.6,181.9 L485.7,176.6 L485.9,172.2 L486.0,179.4 L486.2,179.4 L486.4,180.5 L486.5,179.9 L486.7,170.5 L486.8,181.0 L487.0,175.5 L487.2,172.7 L487.3,182.1 L487.5,183.3 L487.6,184.6 L487.8,183.8 L488.0,181.9 L488.1,172.7 L488.3,185.8 L488.4,175.3 L488.6,178.3 L488.8,172.8 L488.9,173.6 L489.1,182.1 L489.2,169.1 L489.4,180.4 L489.6,173.8 L489.7,183.6 L489.9,180.5 L490.0,174.6 L490.2,166.4 L490.4,174.7 L490.5,169.4 L490.7,177.4 L490.8,177.1 L491.0,172.5 L491.2,175.7 L491.3,167.3 L491.5,174.7 L491.6,182.0 L491.8,178.9 L492.0,177.6 L492.1,164.7 L492.3,182.1 L492.4,168.4 L492.6,163.5 L492.8,172.2 L492.9,175.2 L493.1,172.2 L493.2,171.2 L493.4,159.9 L493.6,178.0 L493.7,177.9 L493.9,168.1 L494.0,176.5 L494.2,163.2 L494.4,164.2 L494.5,160.3 L494.7,174.5 L494.8,173.3 L495.0,177.5 L495.2,159.6 L495.3,174.7 L495.5,166.6 L495.6,162.6 L495.8,174.4 L496.0,166.6 L496.1,158.7 L496.3,162.6 L496.4,169.5 L496.6,171.9 L496.8,162.3 L496.9,167.8 L497.1,156.1 L497.2,173.1 L497.4,157.4 L497.6,173.3 L497.7,170.4 L497.9,172.1 L498.0,171.5 L498.2,165.5 L498.4,165.2 L498.5,163.9 L498.7,160.7 L498.8,160.9 L499.0,163.6 L499.2,169.6 L499.3,169.1 L499.5,167.2 L499.6,169.2 L499.8,174.1 L500.0,172.4 L500.1,167.2 L500.3,168.6 L500.4,173.4 L500.6,166.9 L500.8,171.4 L500.9,165.2 L501.1,172.5 L501.2,172.5 L501.4,174.8 L501.6,171.0 L501.7,177.6 L501.9,172.4 L502.0,165.2 L502.2,172.9 L502.4,176.4 L502.5,178.6 L502.7,172.8 L502.8,166.6 L503.0,166.7 L503.2,166.2 L503.3,167.8 L503.5,170.7 L503.6,177.2 L503.8,169.7 L504.0,168.4 L504.1,159.4 L504.3,177.0 L504.4,171.5 L504.6,173.7 L504.8,176.1 L504.9,178.9 L505.1,172.8 L505.2,178.9 L505.4,164.2 L505.6,178.0 L505.7,168.7 L505.9,165.9 L506.0,175.3 L506.2,162.7 L506.4,179.7 L506.5,162.5 L506.7,171.7 L506.8,166.5 L507.0,169.6 L507.2,163.6 L507.3,178.8 L507.5,168.3 L507.6,175.6 L507.8,178.1 L508.0,159.6 L508.1,174.7 L508.3,165.3 L508.4,175.5 L508.6,178.4 L508.8,160.9 L508.9,177.5 L509.1,169.3 L509.2,162.1 L509.4,173.3 L509.6,164.7 L509.7,163.1 L509.9,165.8 L510.0,174.4 L510.2,176.0 L510.4,166.4 L510.5,167.3 L510.7,169.9 L510.8,173.8 L511.0,157.9 L511.2,172.2 L511.3,173.7 L511.5,166.0 L511.6,163.7 L511.8,177.0 L512.0,163.8 L512.1,163.6 L512.3,169.9 L512.4,163.7 L512.6,167.6 L512.8,160.8 L512.9,166.2 L513.1,159.5 L513.2,169.0 L513.4,164.0 L513.6,172.1 L513.7,166.8 L513.9,169.0 L514.0,158.2 L514.2,165.7 L514.4,155.1 L514.5,161.6 L514.7,167.4 L514.8,158.1 L515.0,161.6 L515.2,168.1 L515.3,156.4 L515.5,157.9 L515.6,168.3 L515.8,159.3 L516.0,156.6 L516.1,159.3 L516.3,162.1 L516.4,166.8 L516.6,165.4 L516.8,163.3 L516.9,159.5 L517.1,166.2 L517.2,164.2 L517.4,152.6 L517.6,163.7 L517.7,167.8 L517.9,165.7 L518.0,169.7 L518.2,150.5 L518.4,160.7 L518.5,156.6 L518.7,155.7 L518.8,166.2 L519.0,156.2 L519.2,160.4 L519.3,165.4 L519.5,163.6 L519.6,156.5 L519.8,153.3 L520.0,167.0 L520.1,166.6 L520.3,153.5 L520.4,154.2 L520.6,158.7 L520.8,155.7 L520.9,170.3 L521.1,158.8 L521.2,168.5 L521.4,163.3 L521.6,160.5 L521.7,161.2 L521.9,164.6 L522.0,160.1 L522.2,156.2 L522.4,149.3 L522.5,156.1 L522.7,165.5 L522.8,167.7 L523.0,162.8 L523.2,155.6 L523.3,164.4 L523.5,164.6 L523.6,160.9 L523.8,158.3 L524.0,165.1 L524.1,155.2 L524.3,161.5 L524.4,154.1 L524.6,156.9 L524.8,159.7 L524.9,157.3 L525.1,165.5 L525.2,164.1 L525.4,164.4 L525.6,163.6 L525.7,159.1 L525.9,154.3 L526.0,164.7 L526.2,149.1 L526.4,162.7 L526.5,160.8 L526.7,151.9 L526.8,153.8 L527.0,162.6 L527.2,165.0 L527.3,155.9 L527.5,157.4 L527.6,157.4 L527.8,158.8 L528.0,155.7 L528.1,158.6 L528.3,165.1 L528.4,158.1 L528.6,157.7 L528.8,161.6 L528.9,153.1 L529.1,153.0 L529.2,158.9 L529.4,149.5 L529.6,156.2 L529.7,161.9 L529.9,153.3 L530.0,159.3 L530.2,151.8 L530.4,158.6 L530.5,160.3 L530.7,161.1 L530.8,158.7 L531.0,155.5 L531.2,155.0 L531.3,150.1 L531.5,145.7 L531.6,156.2 L531.8,148.3 L532.0,162.6 L532.1,147.5 L532.3,158.0 L532.4,151.6 L532.6,160.5 L532.8,155.7 L532.9,154.4 L533.1,158.2 L533.2,159.4 L533.4,155.0 L533.6,154.6 L533.7,154.0 L533.9,163.6 L534.0,151.5 L534.2,147.7 L534.4,159.0 L534.5,163.7 L534.7,161.2 L534.8,154.4 L535.0,152.4 L535.2,157.9 L535.3,156.9 L535.5,156.9 L535.6,159.0 L535.8,155.2 L536.0,163.8 L536.1,159.3 L536.3,161.0 L536.4,156.8 L536.6,151.2 L536.8,154.6 L536.9,155.6 L537.1,153.8 L537.2,148.4 L537.4,150.0 L537.6,160.4 L537.7,148.4 L537.9,141.0 L538.0,159.7 L538.2,160.4 L538.4,162.5 L538.5,157.5 L538.7,155.9 L538.8,154.2 L539.0,155.5 L539.2,153.7 L539.3,149.7 L539.5,146.8 L539.6,158.3 L539.8,158.8 L540.0,158.1 L540.1,148.8 L540.3,149.0 L540.4,144.5 L540.6,142.6 L540.8,146.1 L540.9,155.7 L541.1,157.0 L541.2,142.4 L541.4,142.5 L541.6,157.0 L541.7,151.1 L541.9,141.1 L542.0,154.9 L542.2,146.1 L542.4,152.7 L542.5,157.8 L542.7,156.6 L542.8,160.4 L543.0,153.6 L543.2,144.5 L543.3,148.2 L543.5,153.7 L543.6,149.7 L543.8,146.2 L544.0,142.6 L544.1,148.7 L544.3,149.8 L544.4,146.2 L544.6,150.9 L544.8,159.4 L544.9,151.1 L545.1,154.4 L545.2,149.3 L545.4,146.8 L545.6,155.3 L545.7,150.8 L545.9,156.0 L546.0,146.0 L546.2,159.8 L546.4,150.5 L546.5,152.3 L546.7,148.6 L546.8,145.7 L547.0,141.5 L547.2,148.9 L547.3,146.6 L547.5,154.6 L547.6,150.9 L547.8,141.0 L548.0,143.5 L548.1,146.1 L548.3,144.6 L548.4,146.6 L548.6,152.9 L548.8,144.8 L548.9,154.9 L549.1,157.8 L549.2,150.6 L549.4,141.7 L549.6,145.6 L549.7,148.2 L549.9,158.6 L550.0,158.1 L550.2,155.3 L550.4,158.1 L550.5,145.6 L550.7,151.1 L550.8,150.8 L551.0,144.6 L551.2,151.9 L551.3,148.9 L551.5,156.9 L551.6,143.9 L551.8,146.1 L552.0,144.9 L552.1,142.8 L552.3,149.2 L552.4,146.1 L552.6,157.8 L552.8,146.5 L552.9,150.9 L553.1,143.0 L553.2,142.6 L553.4,140.7 L553.6,149.7 L553.7,143.5 L553.9,146.5 L554.0,152.4 L554.2,136.6 L554.4,152.5 L554.5,142.2 L554.7,150.0 L554.8,157.7 L555.0,144.1 L555.2,142.4 L555.3,149.8 L555.5,154.3 L555.6,148.1 L555.8,141.7 L556.0,151.0 L556.1,150.7 L556.3,144.6 L556.4,150.1 L556.6,153.2 L556.8,147.5 L556.9,148.1 L557.1,149.7 L557.2,146.4 L557.4,140.4 L557.6,155.3 L557.7,146.5 L557.9,153.0 L558.0,150.3 L558.2,154.1 L558.4,144.4 L558.5,154.4 L558.7,146.1 L558.8,141.4 L559.0,150.6 L559.2,157.3 L559.3,145.1 L559.5,154.1 L559.6,153.9 L559.8,156.7 L560.0,139.7 L560.1,155.2 L560.3,151.5 L560.4,155.0 L560.6,147.1 L560.8,147.8 L560.9,153.9 L561.1,153.8 L561.2,140.7 L561.4,143.7 L561.6,156.2 L561.7,148.2 L561.9,139.2 L562.0,141.2 L562.2,149.1 L562.4,141.4 L562.5,148.8 L562.7,152.6 L562.8,140.9 L563.0,142.9 L563.2,154.5 L563.3,140.2 L563.5,138.8 L563.6,155.1 L563.8,151.0 L564.0,148.7 L564.1,150.8 L564.3,144.5 L564.4,143.6 L564.6,153.9 L564.8,146.8 L564.9,144.8 L565.1,148.6 L565.2,140.9 L565.4,143.8 L565.6,149.5 L565.7,152.1 L565.9,144.8 L566.0,138.7 L566.2,140.7 L566.4,146.1 L566.5,148.4 L566.7,152.0 L566.8,148.7 L567.0,152.7 L567.2,149.7 L567.3,152.5 L567.5,147.2 L567.6,152.3 L567.8,148.0 L568.0,154.6 L568.1,143.6 L568.3,150.8 L568.4,138.8 L568.6,139.7 L568.8,155.8 L568.9,142.9 L569.1,149.2 L569.2,141.1 L569.4,147.1 L569.6,143.7 L569.7,151.4 L569.9,156.1 L570.0,147.2 L570.2,150.2 L570.4,147.8 L570.5,143.6 L570.7,154.0 L570.8,141.4 L571.0,144.7 L571.2,147.8 L571.3,153.0 L571.5,154.1 L571.6,147.0 L571.8,140.6 L572.0,151.9 L572.1,140.9 L572.3,145.8 L572.4,145.6 L572.6,152.9 L572.8,140.7 L572.9,141.1 L573.1,143.4 L573.2,137.1 L573.4,149.9 L573.6,139.1 L573.7,142.1 L573.9,149.7 L574.0,143.8 L574.2,152.7 L574.4,145.2 L574.5,141.0 L574.7,148.1 L574.8,151.7 L575.0,144.6 L575.2,139.4 L575.3,143.7 L575.5,149.2 L575.6,152.5 L575.8,141.5 L576.0,137.3 L576.1,143.5 L576.3,141.2 L576.4,153.1 L576.6,147.9 L576.8,152.3 L576.9,148.7 L577.1,140.0 L577.2,151.4 L577.4,138.2 L577.6,140.6 L577.7,137.1 L577.9,152.1 L578.0,144.9 L578.2,150.4 L578.4,146.1 L578.5,152.9 L578.7,140.4 L578.8,139.3 L579.0,143.3 L579.2,144.9 L579.3,139.1 L579.5,157.5 L579.6,152.4 L579.8,144.7 L580.0,145.2 L580.1,146.7 L580.3,148.7 L580.4,149.9 L580.6,143.4 L580.8,147.4 L580.9,148.5 L581.1,156.0 L581.2,139.9 L581.4,147.0 L581.6,139.4 L581.7,147.9 L581.9,152.5 L582.0,149.2 L582.2,139.3 L582.4,154.6 L582.5,148.8 L582.7,147.5 L582.8,151.3 L583.0,143.5 L583.2,142.8 L583.3,143.8 L583.5,149.1 L583.6,143.4 L583.8,137.0 L584.0,143.0 L584.1,133.8 L584.3,138.2 L584.4,137.6 L584.6,149.5 L584.8,143.6 L584.9,139.9 L585.1,149.9 L585.2,148.9 L585.4,149.3 L585.6,139.5 L585.7,146.8 L585.9,146.7 L586.0,145.6 L586.2,140.6 L586.4,148.5 L586.5,152.0 L586.7,150.5 L586.8,154.7 L587.0,142.9 L587.2,152.4 L587.3,138.7 L587.5,149.5 L587.6,144.2 L587.8,139.3 L588.0,145.2 L588.1,141.4 L588.3,135.4 L588.4,142.4 L588.6,146.2 L588.8,146.3 L588.9,142.5 L589.1,146.5 L589.2,152.3 L589.4,153.7 L589.6,149.1 L589.7,140.0 L589.9,142.3 L590.0,148.7 L590.2,152.0 L590.4,155.7 L590.5,146.5 L590.7,143.3 L590.8,144.6 L591.0,150.3 L591.2,155.1 L591.3,146.6 L591.5,145.2 L591.6,147.5 L591.8,144.0 L592.0,150.4 L592.1,137.7 L592.3,138.7 L592.4,142.5 L592.6,143.4 L592.8,143.3 L592.9,152.3 L593.1,142.8 L593.2,144.7 L593.4,154.6 L593.6,135.3 L593.7,142.2 L593.9,151.4 L594.0,148.1 L594.2,151.4 L594.4,140.9 L594.5,146.8 L594.7,135.9 L594.8,136.5 L595.0,149.8 L595.2,137.9 L595.3,136.5 L595.5,141.7 L595.6,149.4 L595.8,142.7 L596.0,143.9 L596.1,143.9 L596.3,151.4 L596.4,140.5 L596.6,134.2 L596.8,147.9 L596.9,133.5 L597.1,143.9 L597.2,143.8 L597.4,140.0 L597.6,146.9 L597.7,147.2 L597.9,143.9 L598.0,139.3 L598.2,153.3 L598.4,142.1 L598.5,138.6 L598.7,144.4 L598.8,136.3 L599.0,143.8 L599.2,148.7 L599.3,136.7 L599.5,149.0 L599.6,147.0 L599.8,138.8 L600.0,139.9 L600.1,148.6 L600.3,146.8 L600.4,140.5 L600.6,137.4 L600.8,147.1 L600.9,143.9 L601.1,147.4 L601.2,151.3 L601.4,140.1 L601.6,142.4 L601.7,149.9 L601.9,141.7 L602.0,140.7 L602.2,145.9 L602.4,155.5 L602.5,153.0 L602.7,146.3 L602.8,143.2 L603.0,149.0 L603.2,143.5 L603.3,139.3 L603.5,140.1 L603.6,150.0 L603.8,148.4 L604.0,147.3 L604.1,140.7 L604.3,145.7 L604.4,146.5 L604.6,151.7 L604.8,144.7 L604.9,138.4 L605.1,142.9 L605.2,139.0 L605.4,141.1 L605.6,140.9 L605.7,140.7 L605.9,146.9 L606.0,153.3 L606.2,151.7 L606.4,146.8 L606.5,143.8 L606.7,137.7 L606.8,144.8 L607.0,139.6 L607.2,137.9 L607.3,145.0 L607.5,139.8 L607.6,151.7 L607.8,148.5 L608.0,144.8 L608.1,150.3 L608.3,138.9 L608.4,144.6 L608.6,144.6 L608.8,150.4 L608.9,137.9 L609.1,143.2 L609.2,151.5 L609.4,137.6 L609.6,149.4 L609.7,147.4 L609.9,143.9 L610.0,149.4 L610.2,150.7 L610.4,141.7 L610.5,144.2 L610.7,144.8 L610.8,136.5 L611.0,147.7 L611.2,137.6 L611.3,151.9 L611.5,147.1 L611.6,148.5 L611.8,151.0 L612.0,148.1 L612.1,139.3 L612.3,143.8 L612.4,149.0 L612.6,136.5 L612.8,148.4 L612.9,141.4 L613.1,145.4 L613.2,139.8 L613.4,137.7 L613.6,151.9 L613.7,147.1 L613.9,135.3 L614.0,152.2 L614.2,152.3 L614.4,144.6 L614.5,145.6 L614.7,139.1 L614.8,145.2 L615.0,137.4 L615.2,152.0 L615.3,148.4 L615.5,141.0 L615.6,148.8 L615.8,148.3 L616.0,139.7 L616.1,136.4 L616.3,134.6 L616.4,146.5 L616.6,137.9 L616.8,140.1 L616.9,144.4 L617.1,138.7 L617.2,143.3 L617.4,134.0 L617.6,136.1 L617.7,143.0 L617.9,139.8 L618.0,150.6 L618.2,134.4 L618.4,137.6 L618.5,137.3 L618.7,151.3 L618.8,148.5 L619.0,133.9 L619.2,138.9 L619.3,135.6 L619.5,144.7 L619.6,147.3 L619.8,143.8 L620.0,141.5 L620.1,141.0 L620.3,144.3 L620.4,135.4 L620.6,144.1 L620.8,148.5 L620.9,144.7 L621.1,140.9 L621.2,139.2 L621.4,151.9 L621.6,150.5 L621.7,149.5 L621.9,146.7 L622.0,140.0 L622.2,149.6 L622.4,140.2 L622.5,140.9 L622.7,146.1 L622.8,134.9 L623.0,143.5 L623.2,149.7 L623.3,142.5 L623.5,142.7 L623.6,145.8 L623.8,148.4 L624.0,136.8 L624.1,147.1 L624.3,142.9 L624.4,142.4 L624.6,134.6 L624.8,140.4 L624.9,138.6 L625.1,146.4 L625.2,141.0 L625.4,144.1 L625.6,152.5 L625.7,134.3 L625.9,142.4 L626.0,138.4 L626.2,137.8 L626.4,142.1 L626.5,149.6 L626.7,134.8 L626.8,143.7 L627.0,135.5 L627.2,139.3 L627.3,140.3 L627.5,132.0 L627.6,146.9 L627.8,141.1 L628.0,138.7 L628.1,137.4 L628.3,148.8 L628.4,149.4 L628.6,142.8 L628.8,137.8 L628.9,145.7 L629.1,134.2 L629.2,146.9 L629.4,134.1 L629.6,132.4 L629.7,141.5 L629.9,138.1 L630.0,134.9 L630.2,135.7 L630.4,153.1 L630.5,148.3 L630.7,133.1 L630.8,147.2 L631.0,139.1 L631.2,149.9 L631.3,139.9 L631.5,144.1 L631.6,142.1 L631.8,144.3 L632.0,137.0 L632.1,142.9 L632.3,145.9 L632.4,139.9 L632.6,148.0 L632.8,145.5 L632.9,146.0 L633.1,144.8 L633.2,139.9 L633.4,142.2 L633.6,135.4 L633.7,133.3 L633.9,139.9 L634.0,134.7 L634.2,137.9 L634.4,147.7 L634.5,152.3 L634.7,132.0 L634.8,141.0 L635.0,132.7 L635.2,143.2 L635.3,145.5 L635.5,142.7 L635.6,135.9 L635.8,144.7 L636.0,137.7 L636.1,138.8 L636.3,144.2 L636.4,149.5 L636.6,143.2 L636.8,147.7 L636.9,136.4 L637.1,141.4 L637.2,138.5 L637.4,139.3 L637.6,145.9 L637.7,151.6 L637.9,142.0 L638.0,138.7 L638.2,136.0 L638.4,148.1 L638.5,137.0 L638.7,132.5 L638.8,146.5 L639.0,140.8 L639.2,141.5 L639.3,151.1 L639.5,145.5 L639.6,137.2 L639.8,147.9 L640.0,142.3 L640.1,133.6 L640.3,148.5 L640.4,139.5 L640.6,144.1 L640.8,146.8 L640.9,132.6 L641.1,149.6 L641.2,140.8 L641.4,134.4 L641.6,142.9 L641.7,132.8 L641.9,151.4 L642.0,141.8 L642.2,140.6 L642.4,145.0 L642.5,147.2 L642.7,141.8 L642.8,139.9 L643.0,132.7 L643.2,149.6 L643.3,146.9 L643.5,140.0 L643.6,139.3 L643.8,141.2 L644.0,137.8 L644.1,151.2 L644.3,143.3 L644.4,146.2 L644.6,146.5 L644.8,133.2 L644.9,137.1 L645.1,135.8 L645.2,138.3 L645.4,144.5 L645.6,149.1 L645.7,151.4 L645.9,144.3 L646.0,139.6 L646.2,139.3 L646.4,140.7 L646.5,139.9 L646.7,143.7 L646.8,148.0 L647.0,138.5 L647.2,146.3 L647.3,131.4 L647.5,138.7 L647.6,149.5 L647.8,145.3 L648.0,146.6 L648.1,145.9 L648.3,137.2 L648.4,144.3 L648.6,142.9 L648.8,132.7 L648.9,133.5 L649.1,135.1 L649.2,140.9 L649.4,142.7 L649.6,146.7 L649.7,136.9 L649.9,145.1 L650.0,140.0 L650.2,139.1 L650.4,141.0 L650.5,138.6 L650.7,151.0 L650.8,136.9 L651.0,137.1 L651.2,147.4 L651.3,148.5 L651.5,135.4 L651.6,138.3 L651.8,139.7 L652.0,134.9 L652.1,137.2 L652.3,149.2 L652.4,145.6 L652.6,135.0 L652.8,139.6 L652.9,137.3 L653.1,144.4 L653.2,135.1 L653.4,147.7 L653.6,133.1 L653.7,140.3 L653.9,146.9 L654.0,147.3 L654.2,142.3 L654.4,146.1 L654.5,143.2 L654.7,140.7 L654.8,138.0 L655.0,144.1 L655.2,142.0 L655.3,145.2 L655.5,142.9 L655.6,136.7 L655.8,143.1 L656.0,142.0 L656.1,131.1 L656.3,141.6 L656.4,144.1 L656.6,147.0 L656.8,137.0 L656.9,144.6 L657.1,140.2 L657.2,140.3 L657.4,139.7 L657.6,142.1 L657.7,148.1 L657.9,144.7 L658.0,138.6 L658.2,144.4 L658.4,138.6 L658.5,147.7 L658.7,131.0 L658.8,144.0 L659.0,140.7 L659.2,146.0 L659.3,143.4 L659.5,130.0 L659.6,149.0 L659.8,144.3 L660.0,138.3 L660.1,132.3 L660.3,135.0 L660.4,140.4 L660.6,140.3 L660.8,137.8 L660.9,138.0 L661.1,143.0 L661.2,144.3 L661.4,147.6 L661.6,139.2 L661.7,139.6 L661.9,146.7 L662.0,135.2 L662.2,131.5 L662.4,138.7 L662.5,142.3 L662.7,133.6 L662.8,145.2 L663.0,137.8 L663.2,129.4 L663.3,147.5 L663.5,134.3 L663.6,139.0 L663.8,143.5 L664.0,134.4 L664.1,141.4 L664.3,139.8 L664.4,142.8 L664.6,134.5 L664.8,142.8 L664.9,151.0 L665.1,148.5 L665.2,148.6 L665.4,141.1 L665.6,135.4 L665.7,139.6 L665.9,148.2 L666.0,135.3 L666.2,147.5 L666.4,136.4 L666.5,149.0 L666.7,142.2 L666.8,140.8 L667.0,138.0 L667.2,139.9 L667.3,147.0 L667.5,141.4 L667.6,145.6 L667.8,140.9 L668.0,131.2 L668.1,140.9 L668.3,143.6 L668.4,144.3 L668.6,134.9 L668.8,136.5 L668.9,134.8 L669.1,132.2 L669.2,142.7 L669.4,137.7 L669.6,140.5 L669.7,146.5 L669.9,141.8 L670.0,137.5 L670.2,144.5 L670.4,139.5 L670.5,136.6 L670.7,140.7 L670.8,145.2 L671.0,146.3 L671.2,142.7 L671.3,146.9 L671.5,143.1 L671.6,134.6 L671.8,152.2 L672.0,142.4 L672.1,143.1 L672.3,141.4 L672.4,137.8 L672.6,140.1 L672.8,146.8 L672.9,142.3 L673.1,149.3 L673.2,136.7 L673.4,139.0 L673.6,142.7 L673.7,132.0 L673.9,144.0 L674.0,141.2 L674.2,140.5 L674.4,138.5 L674.5,140.5 L674.7,142.9 L674.8,145.3 L675.0,146.7 L675.2,149.0 L675.3,148.3 L675.5,141.7 L675.6,137.2 L675.8,140.7 L676.0,135.4 L676.1,141.5 L676.3,140.1 L676.4,142.0 L676.6,141.2 L676.8,133.4 L676.9,144.1 L677.1,135.4 L677.2,143.7 L677.4,136.3 L677.6,134.3 L677.7,137.6 L677.9,132.4 L678.0,132.9 L678.2,145.7 L678.4,133.7 L678.5,148.3 L678.7,143.3 L678.8,139.9 L679.0,136.9 L679.2,148.4 L679.3,133.8 L679.5,145.6 L679.6,142.6 L679.8,138.0 L680.0,136.8 L680.1,141.5 L680.3,132.6 L680.4,143.9 L680.6,152.1 L680.8,136.7 L680.9,143.0 L681.1,139.3 L681.2,146.4 L681.4,136.3 L681.6,137.0 L681.7,135.5 L681.9,150.1 L682.0,142.9 L682.2,140.2 L682.4,146.8 L682.5,135.4 L682.7,139.7 L682.8,145.0 L683.0,135.5 L683.2,144.6 L683.3,149.0 L683.5,132.8 L683.6,151.9 L683.8,147.6 L684.0,137.1 L684.1,141.6 L684.3,138.4 L684.4,139.3 L684.6,138.5 L684.8,140.4 L684.9,133.2 L685.1,136.9 L685.2,134.7 L685.4,142.7 L685.6,145.3 L685.7,144.0 L685.9,143.8 L686.0,147.0 L686.2,139.7 L686.4,136.0 L686.5,131.9 L686.7,144.0 L686.8,141.4 L687.0,137.7 L687.2,138.9 L687.3,144.0 L687.5,144.0 L687.6,136.9 L687.8,145.7 L688.0,144.4 L688.1,136.0 L688.3,135.3 L688.4,150.4 L688.6,134.5 L688.8,147.5 L688.9,132.0 L689.1,138.2 L689.2,136.4 L689.4,141.6 L689.6,137.4 L689.7,138.1 L689.9,147.5 L690.0,141.0 L690.2,137.1 L690.4,145.2 L690.5,148.9 L690.7,140.0 L690.8,138.0 L691.0,133.0 L691.2,134.2 L691.3,137.7 L691.5,131.8 L691.6,152.0 L691.8,142.4 L692.0,134.1 L692.1,137.6 L692.3,129.7 L692.4,146.4 L692.6,143.7 L692.8,140.8 L692.9,135.1 L693.1,136.7 L693.2,146.6 L693.4,139.8 L693.6,134.5 L693.7,143.2 L693.9,149.6 L694.0,142.4 L694.2,147.5 L694.4,139.1 L694.5,145.0 L694.7,129.7 L694.8,146.7 L695.0,140.7 L695.2,138.8 L695.3,147.8 L695.5,138.4 L695.6,139.5 L695.8,140.2 L696.0,149.0 L696.1,145.2 L696.3,132.1 L696.4,136.7 L696.6,131.6 L696.8,134.7 L696.9,148.3 L697.1,147.2 L697.2,148.1 L697.4,137.9 L697.6,140.9 L697.7,142.7 L697.9,146.0 L698.0,134.2 L698.2,135.2 L698.4,144.7 L698.5,133.6 L698.7,145.1 L698.8,133.4 L699.0,151.0 L699.2,135.2 L699.3,134.6 L699.5,138.9 L699.6,143.5 L699.8,148.3 L700.0,141.1 L700.1,143.8 L700.3,150.3 L700.4,150.0 L700.6,136.8 L700.8,143.3 L700.9,134.0 L701.1,142.0 L701.2,136.1 L701.4,138.2 L701.6,146.4 L701.7,133.1 L701.9,136.4 L702.0,134.0 L702.2,131.1 L702.4,144.6 L702.5,137.4 L702.7,142.5 L702.8,139.0 L703.0,147.9 L703.2,141.8 L703.3,140.5 L703.5,142.6 L703.6,145.9 L703.8,146.6 L704.0,149.3 L704.1,134.5 L704.3,146.0 L704.4,148.0 L704.6,138.2 L704.8,145.8 L704.9,152.5 L705.1,142.3 L705.2,145.2 L705.4,142.7 L705.6,146.4 L705.7,146.6 L705.9,136.3 L706.0,133.5 L706.2,136.4 L706.4,141.9 L706.5,133.6 L706.7,146.8 L706.8,147.8 L707.0,146.9 L707.2,134.2 L707.3,140.0 L707.5,138.3 L707.6,148.8 L707.8,132.4 L708.0,135.7 L708.1,139.1 L708.3,136.8 L708.4,142.2 L708.6,133.4 L708.8,140.2 L708.9,147.6 L709.1,137.1 L709.2,140.0 L709.4,149.8 L709.6,136.9 L709.7,145.2 L709.9,146.8 L710.0,132.5 L710.2,138.0 L710.4,146.4 L710.5,130.8 L710.7,144.8 L710.8,152.7 L711.0,144.7 L711.2,143.8 L711.3,141.9 L711.5,144.7 L711.6,137.8 L711.8,138.5 L712.0,144.1 L712.1,140.3 L712.3,138.9 L712.4,133.5 L712.6,136.7 L712.8,140.6 L712.9,144.1 L713.1,148.0 L713.2,146.3 L713.4,143.5 L713.6,139.3 L713.7,136.6 L713.9,146.9 L714.0,138.2 L714.2,148.5 L714.4,141.2 L714.5,145.0 L714.7,144.7 L714.8,145.2 L715.0,131.3 L715.2,132.3 L715.3,148.8 L715.5,148.3 L715.6,139.4 L715.8,146.9 L716.0,136.5 L716.1,140.3 L716.3,141.8 L716.4,143.3 L716.6,136.6 L716.8,136.6 L716.9,151.4 L717.1,145.5 L717.2,133.7 L717.4,144.4 L717.6,147.9 L717.7,136.1 L717.9,146.4 L718.0,139.9 L718.2,138.9 L718.4,135.1 L718.5,140.2 L718.7,141.4 L718.8,141.3 L719.0,135.1 L719.2,144.9 L719.3,135.5 L719.5,139.8 L719.6,142.2 L719.8,136.2 L720.0,146.8 L720.1,141.5 L720.3,142.4 L720.4,137.1 L720.6,138.0 L720.8,138.5 L720.9,134.4 L721.1,138.6 L721.2,146.8 L721.4,140.6 L721.6,147.2 L721.7,136.2 L721.9,134.0 L722.0,132.5 L722.2,145.6 L722.4,136.5 L722.5,141.3 L722.7,144.6 L722.8,139.5 L723.0,147.9 L723.2,148.8 L723.3,137.4 L723.5,134.4 L723.6,145.8 L723.8,142.7 L724.0,144.6 L724.1,142.8 L724.3,147.5 L724.4,144.4 L724.6,137.0 L724.8,141.5 L724.9,140.7 L725.1,150.2 L725.2,140.4 L725.4,131.9 L725.6,147.6 L725.7,137.7 L725.9,146.7 L726.0,146.3 L726.2,143.9 L726.4,145.4 L726.5,148.8 L726.7,146.4 L726.8,142.7 L727.0,135.9 L727.2,139.5 L727.3,138.7 L727.5,141.1 L727.6,138.8 L727.8,140.5 L728.0,138.4 L728.1,139.7 L728.3,138.2 L728.4,136.7 L728.6,144.0 L728.8,131.8 L728.9,135.3 L729.1,131.9 L729.2,140.1 L729.4,135.6 L729.6,131.2 L729.7,147.0 L729.9,141.8 L730.0,145.1 L730.2,137.6 L730.4,137.8 L730.5,141.2 L730.7,134.1 L730.8,149.2 L731.0,133.9 L731.2,145.9 L731.3,142.3 L731.5,146.7 L731.6,135.2 L731.8,150.1 L732.0,140.9 L732.1,142.1 L732.3,133.4 L732.4,134.1 L732.6,147.6 L732.8,149.4 L732.9,139.1 L733.1,148.5 L733.2,144.1 L733.4,141.3 L733.6,139.3 L733.7,145.0 L733.9,140.0 L734.0,145.6 L734.2,136.2 L734.4,141.6 L734.5,134.7 L734.7,149.3 L734.8,135.8 L735.0,142.8 L735.2,143.8 L735.3,140.0 L735.5,148.8 L735.6,132.6 L735.8,135.0 L736.0,136.8 L736.1,140.5 L736.3,144.2 L736.4,144.4 L736.6,144.2 L736.8,133.0 L736.9,139.2 L737.1,132.6 L737.2,146.3 L737.4,143.6 L737.6,135.3 L737.7,131.3 L737.9,138.1 L738.0,139.1 L738.2,136.4 L738.4,137.8 L738.5,142.7 L738.7,137.0 L738.8,146.9 L739.0,138.1 L739.2,138.2 L739.3,139.7 L739.5,144.0 L739.6,145.4 L739.8,144.8 L740.0,132.6 L740.1,148.8 L740.3,136.7 L740.4,147.7 L740.6,135.9 L740.8,144.3 L740.9,142.8 L741.1,144.0 L741.2,138.0 L741.4,137.8 L741.6,137.8 L741.7,133.5 L741.9,141.8 L742.0,137.6 L742.2,132.7 L742.4,135.7 L742.5,135.0 L742.7,136.5 L742.8,140.3 L743.0,148.3 L743.2,144.8 L743.3,142.9 L743.5,137.7 L743.6,143.0 L743.8,148.0 L744.0,149.1 L744.1,143.6 L744.3,138.6 L744.4,155.7 L744.6,133.2 L744.8,143.9 L744.9,146.4 L745.1,144.5 L745.2,142.2 L745.4,137.3 L745.6,136.3 L745.7,144.1 L745.9,139.2 L746.0,145.4 L746.2,135.0 L746.4,146.1 L746.5,139.4 L746.7,137.9 L746.8,133.9 L747.0,140.2 L747.2,141.2 L747.3,133.7 L747.5,136.5 L747.6,151.4 L747.8,140.3 L748.0,140.7 L748.1,142.0 L748.3,139.7 L748.4,151.4 L748.6,135.2 L748.8,135.8 L748.9,131.8 L749.1,134.6 L749.2,134.2 L749.4,142.7 L749.6,140.6 L749.7,137.2 L749.9,147.7 L750.0,144.1 L750.2,143.7 L750.4,147.9 L750.5,140.8 L750.7,137.4 L750.8,143.2 L751.0,149.6 L751.2,135.6 L751.3,142.1 L751.5,135.9 L751.6,147.2 L751.8,130.8 L752.0,145.4 L752.1,136.5 L752.3,144.7 L752.4,144.1 L752.6,144.1 L752.8,131.8 L752.9,140.3 L753.1,134.9 L753.2,137.1 L753.4,135.3 L753.6,134.0 L753.7,147.5 L753.9,140.7 L754.0,136.3 L754.2,136.1 L754.4,130.4 L754.5,133.8 L754.7,143.7 L754.8,143.7 L755.0,142.9 L755.2,150.8 L755.3,146.4 L755.5,148.4 L755.6,140.9 L755.8,143.4 L756.0,139.6 L756.1,143.8 L756.3,134.3 L756.4,148.2 L756.6,133.6 L756.8,145.1 L756.9,136.5 L757.1,145.2 L757.2,140.9 L757.4,151.1 L757.6,146.8 L757.7,143.2 L757.9,145.8 L758.0,135.2 L758.2,145.3 L758.4,141.4 L758.5,144.8 L758.7,142.6 L758.8,139.4 L759.0,140.5 L759.2,147.2 L759.3,143.5 L759.5,148.6 L759.6,132.1 L759.8,140.4 L760.0,144.1 L760.1,140.1 L760.3,135.6 L760.4,148.3 L760.6,145.7 L760.8,136.6 L760.9,138.2 L761.1,148.5 L761.2,146.8 L761.4,148.7 L761.6,142.9 L761.7,136.1 L761.9,141.7 L762.0,142.5 L762.2,136.6 L762.4,138.6 L762.5,146.5 L762.7,150.0 L762.8,139.5 L763.0,142.2 L763.2,140.1 L763.3,143.7 L763.5,138.7 L763.6,144.0 L763.8,142.7 L764.0,143.0 L764.1,135.7 L764.3,140.5 L764.4,140.4 L764.6,146.2 L764.8,144.4 L764.9,144.8 L765.1,144.4 L765.2,136.8 L765.4,136.3 L765.6,140.8 L765.7,133.7 L765.9,149.1 L766.0,141.1 L766.2,137.7 L766.4,144.7 L766.5,133.1 L766.7,141.6 L766.8,150.8 L767.0,130.7 L767.2,146.0 L767.3,133.1 L767.5,136.8 L767.6,145.3 L767.8,148.8 L768.0,141.2 L768.1,145.9 L768.3,137.0 L768.4,144.8 L768.6,140.5 L768.8,148.5 L768.9,133.7 L769.1,136.3 L769.2,136.8 L769.4,132.0 L769.6,143.0 L769.7,145.6 L769.9,145.8 L770.0,136.8 L770.2,138.7 L770.4,150.2 L770.5,132.8 L770.7,144.2 L770.8,135.0 L771.0,147.2 L771.2,140.9 L771.3,143.6 L771.5,133.4 L771.6,142.3 L771.8,141.0 L772.0,134.9 L772.1,137.2 L772.3,143.3 L772.4,137.1 L772.6,140.0 L772.8,139.7 L772.9,143.8 L773.1,141.3 L773.2,147.9 L773.4,147.9 L773.6,140.6 L773.7,137.3 L773.9,135.6 L774.0,144.1 L774.2,137.0 L774.4,148.6 L774.5,138.7 L774.7,132.0 L774.8,136.3 L775.0,146.1 L775.2,133.8 L775.3,139.1 L775.5,147.4 L775.6,144.8 L775.8,141.8 L776.0,136.4 L776.1,137.5 L776.3,139.7 L776.4,144.0 L776.6,143.4 L776.8,148.0 L776.9,148.1 L777.1,147.7 L777.2,142.0 L777.4,138.0 L777.6,139.5 L777.7,147.7 L777.9,146.3 L778.0,148.7 L778.2,136.3 L778.4,145.2 L778.5,137.4 L778.7,146.3 L778.8,132.3 L779.0,144.9 L779.2,146.9 L779.3,135.6 L779.5,132.6 L779.6,137.1 L779.8,139.0 L780.0,144.8 L780.1,147.1 L780.3,141.3 L780.4,134.4 L780.6,146.8 L780.8,144.4 L780.9,132.9 L781.1,145.0 L781.2,140.6 L781.4,144.4 L781.6,145.2 L781.7,131.8 L781.9,138.2 L782.0,136.5 L782.2,142.2 L782.4,132.1 L782.5,138.0 L782.7,138.1 L782.8,132.0 L783.0,142.6 L783.2,131.6 L783.3,138.6 L783.5,133.9 L783.6,148.7 L783.8,133.2 L784.0,146.5 L784.1,139.1 L784.3,135.4 L784.4,139.8 L784.6,138.7 L784.8,134.5 L784.9,143.8 L785.1,134.4 L785.2,137.9 L785.4,144.6 L785.6,130.7 L785.7,145.7 L785.9,140.3 L786.0,131.5 L786.2,146.1 L786.4,135.6 L786.5,148.8 L786.7,148.9 L786.8,145.4 L787.0,152.5 L787.2,134.1 L787.3,133.7 L787.5,137.6 L787.6,139.5 L787.8,138.6 L788.0,139.3 L788.1,142.1 L788.3,147.9 L788.4,147.4 L788.6,138.2 L788.8,142.4 L788.9,133.4 L789.1,132.9 L789.2,141.1 L789.4,144.3 L789.6,140.0 L789.7,133.7 L789.9,133.6 L790.0,136.0 L790.2,148.4 L790.4,139.1 L790.5,148.2 L790.7,146.4 L790.8,144.5 L791.0,145.1 L791.2,135.6 L791.3,134.9 L791.5,135.5 L791.6,134.3 L791.8,148.4 L792.0,137.4 L792.1,143.0 L792.3,139.3 L792.4,141.5 L792.6,141.5 L792.8,145.2 L792.9,137.3 L793.1,137.1 L793.2,132.3 L793.4,134.9 L793.6,149.9 L793.7,148.8 L793.9,133.7 L794.0,145.8 L794.2,143.5 L794.4,139.6 L794.5,132.9 L794.7,146.4 L794.8,135.6 L795.0,144.9 L795.2,138.7 L795.3,147.0 L795.5,140.0 L795.6,133.7 L795.8,143.9 L796.0,137.4 L796.1,134.5 L796.3,148.7 L796.4,148.8 L796.6,145.8 L796.8,137.0 L796.9,143.6 L797.1,136.7 L797.2,146.9 L797.4,146.9 L797.6,142.5 L797.7,144.0 L797.9,144.0 L798.0,138.7 L798.2,133.5 L798.4,147.5 L798.5,135.2 L798.7,137.4 L798.8,137.5 L799.0,134.6 L799.2,139.2 L799.3,144.9 L799.5,141.8 L799.6,142.1 L799.8,132.4 L800.0,139.7 L800.1,135.8 L800.3,137.8 L800.4,143.0 L800.6,138.0 L800.8,136.6 L800.9,149.1 L801.1,144.8 L801.2,147.2 L801.4,137.7 L801.6,132.7 L801.7,140.6 L801.9,146.9 L802.0,136.7 L802.2,146.6 L802.4,146.4 L802.5,138.1 L802.7,140.1 L802.8,136.7 L803.0,140.7 L803.2,143.7 L803.3,138.4 L803.5,150.3 L803.6,134.5 L803.8,147.3 L804.0,135.8 L804.1,150.1 L804.3,136.6 L804.4,147.0 L804.6,136.4 L804.8,140.6 L804.9,134.4 L805.1,135.2 L805.2,139.2 L805.4,147.1 L805.6,144.7 L805.7,133.5 L805.9,138.8 L806.0,133.5 L806.2,134.0 L806.4,144.7 L806.5,140.8 L806.7,147.8 L806.8,146.5 L807.0,134.4 L807.2,140.0 L807.3,147.5 L807.5,145.3 L807.6,140.5 L807.8,141.2 L808.0,140.9 L808.1,137.8 L808.3,142.1 L808.4,149.3 L808.6,137.6 L808.8,136.8 L808.9,138.4 L809.1,150.1 L809.2,134.9 L809.4,142.0 L809.6,144.2 L809.7,140.4 L809.9,146.1 L810.0,138.1 L810.2,133.3 L810.4,142.7 L810.5,134.7 L810.7,140.8 L810.8,137.8 L811.0,137.8 L811.2,146.5 L811.3,147.9 L811.5,149.1 L811.6,144.8 L811.8,146.5 L812.0,146.0 L812.1,132.8 L812.3,143.8 L812.4,136.5 L812.6,133.2 L812.8,148.1 L812.9,136.6 L813.1,147.5 L813.2,145.2 L813.4,132.6 L813.6,142.8 L813.7,149.7 L813.9,139.8 L814.0,140.5 L814.2,141.9 L814.4,140.9 L814.5,140.7 L814.7,140.1 L814.8,144.6 L815.0,132.6 L815.2,135.9 L815.3,134.7 L815.5,138.3 L815.6,139.3 L815.8,147.8 L816.0,141.4 L816.1,142.0 L816.3,136.6 L816.4,153.1 L816.6,133.5 L816.8,138.1 L816.9,138.0 L817.1,138.9 L817.2,132.6 L817.4,140.4 L817.6,135.0 L817.7,130.5 L817.9,147.3 L818.0,138.4 L818.2,130.5 L818.4,140.7 L818.5,138.7 L818.7,145.6 L818.8,139.3 L819.0,135.3 L819.2,143.8 L819.3,138.0 L819.5,147.6 L819.6,136.6 L819.8,133.5 L820.0,134.2 L820.1,137.1 L820.3,136.6 L820.4,143.1 L820.6,135.2 L820.8,147.7 L820.9,136.7 L821.1,145.7 L821.2,138.5 L821.4,139.5 L821.6,145.7 L821.7,147.3 L821.9,145.0 L822.0,143.2 L822.2,136.9 L822.4,141.5 L822.5,141.8 L822.7,131.8 L822.8,132.6 L823.0,148.3 L823.2,140.4 L823.3,148.3 L823.5,137.3 L823.6,151.0 L823.8,135.5 L824.0,130.2 L824.1,137.1 L824.3,137.9 L824.4,134.2 L824.6,145.1 L824.8,146.4 L824.9,136.1 L825.1,138.3 L825.2,150.2 L825.4,136.4 L825.6,141.3 L825.7,138.7 L825.9,138.5 L826.0,137.6 L826.2,149.1 L826.4,134.6 L826.5,135.2 L826.7,147.6 L826.8,135.8 L827.0,142.8 L827.2,143.5 L827.3,137.4 L827.5,149.4 L827.6,138.6 L827.8,136.8 L828.0,131.3" fill="none" stroke="#276BB9" stroke-width="2.4" stroke-linejoin="round"/>
<rect x="118.0" y="32.1" width="710.0" height="572.3" fill="none" stroke="#111" stroke-width="3"/>
<g id="legend">
<rect x="437.5" y="289.7" width="357" height="76.8" fill="#fefefe" stroke="#111" stroke-width="3"/>
<line x1="441" y1="310.2" x2="508" y2="310.2" stroke="#F06326" stroke-width="2.4"/>
<line x1="441" y1="347" x2="508" y2="347" stroke="#276BB9" stroke-width="2.4"/>
<text x="515.6" y="320.3" font-size="29.8" style="fill:#F06326;stroke:#F06326">Differential Probe</text>
<text x="515.6" y="357" font-size="29.8" style="fill:#276BB9;stroke:#276BB9">Optical Isolation Probe</text>
</g>
<g id="labels">
<text x="106.5" y="612.1" text-anchor="end" font-size="25.5">-10</text>
<text x="106.5" y="516.8" text-anchor="end" font-size="25.5">-5</text>
<text x="106.5" y="421.4" text-anchor="end" font-size="25.5">0</text>
<text x="106.5" y="326.0" text-anchor="end" font-size="25.5">5</text>
<text x="106.5" y="230.6" text-anchor="end" font-size="25.5">10</text>
<text x="106.5" y="135.2" text-anchor="end" font-size="25.5">15</text>
<text x="106.5" y="39.9" text-anchor="end" font-size="25.5">20</text>
<text x="165.8" y="635.6" text-anchor="middle" font-size="25.5">-0.4</text>
<text x="260.5" y="635.6" text-anchor="middle" font-size="25.5">-0.2</text>
<text x="355.2" y="635.6" text-anchor="middle" font-size="25.5">0.0</text>
<text x="449.8" y="635.6" text-anchor="middle" font-size="25.5">0.2</text>
<text x="544.5" y="635.6" text-anchor="middle" font-size="25.5">0.4</text>
<text x="639.2" y="635.6" text-anchor="middle" font-size="25.5">0.6</text>
<text x="733.8" y="635.6" text-anchor="middle" font-size="25.5">0.8</text>
<text x="828.5" y="635.6" text-anchor="middle" font-size="25.5">1.0</text>
</g>
<text x="473.3" y="682.2" text-anchor="middle" font-size="29.7">time (µs)</text>
<text transform="translate(40.5,304) rotate(-90)" text-anchor="middle" font-size="29.9">Vgs (V)</text>
</svg>
<div style="position:absolute;left:860px;top:0;width:1px;height:705px;background:#dcdde0;"></div>
</body></html>
